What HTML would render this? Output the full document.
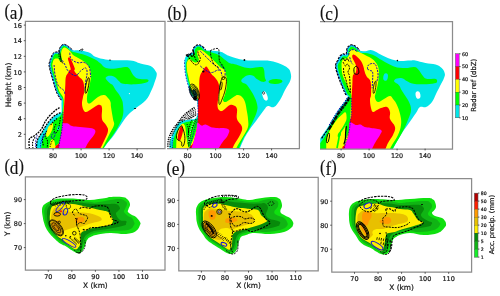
<!DOCTYPE html>
<html lang="en"><head><meta charset="utf-8"><title>Figure</title>
<style>html,body{margin:0;padding:0;background:#fff}svg{display:block}</style></head>
<body>
<svg width="500" height="296" viewBox="0 0 500 296">
<rect width="500" height="296" fill="#fff"/>
<defs>
<clipPath id="ka"><rect x="25.4" y="21.4" width="139.6" height="127.3"/></clipPath>
<clipPath id="kb"><rect x="165.5" y="21.4" width="133.9" height="127.3"/></clipPath>
<clipPath id="kc"><rect x="320.2" y="21.4" width="132.2" height="127.6"/></clipPath>
<clipPath id="kd"><rect x="25.4" y="176.8" width="139.6" height="93.3"/></clipPath>
<clipPath id="ke"><rect x="178.8" y="177.4" width="139.4" height="93.5"/></clipPath>
<clipPath id="kf"><rect x="331.8" y="178.5" width="139.8" height="93.6"/></clipPath>
</defs>
<g clip-path="url(#ka)">
<path d="M61.5,112.0C61.8,110.2 61.5,106.4 61.5,104.0C61.5,101.6 62.0,101.8 61.3,100.0C60.6,98.2 59.2,96.9 58.2,95.0C57.2,93.1 57.2,93.4 56.2,90.4C55.2,87.4 54.4,84.9 53.1,80.2C51.8,75.5 50.3,70.6 49.6,67.0C48.9,63.4 49.5,63.7 49.8,62.0C50.1,60.3 50.4,60.0 51.1,58.3C51.8,56.6 52.1,54.9 53.1,53.7C54.1,52.5 55.1,52.4 56.2,52.2C57.3,52.0 58.1,53.0 58.7,52.6C59.3,52.2 58.9,51.4 59.4,50.1C59.9,48.8 60.2,47.2 61.2,46.1C62.2,45.0 62.9,44.5 64.3,44.6C65.7,44.7 66.7,45.5 68.3,46.6C69.9,47.7 70.5,49.4 72.4,50.1C74.3,50.8 75.6,50.1 78.0,50.3C80.4,50.5 82.1,50.6 84.6,51.2C87.1,51.8 88.3,52.0 90.6,53.2C92.9,54.4 92.1,55.6 96.0,57.0C99.9,58.4 103.1,59.3 110.0,60.0C116.9,60.7 124.2,59.8 130.3,60.5C136.4,61.2 136.3,62.4 140.4,63.5C144.5,64.6 147.6,64.6 150.6,66.1C153.6,67.6 154.4,69.4 155.6,71.2C156.8,73.0 156.9,73.0 156.7,75.2C156.5,77.4 155.6,79.3 154.6,82.3C153.6,85.3 153.3,86.5 151.6,90.0C149.9,93.5 149.1,96.4 146.0,100.0C142.9,103.6 139.6,105.0 136.0,108.0C132.4,111.0 130.8,112.0 128.0,115.0C125.2,118.0 124.8,119.0 122.0,123.0C119.2,127.0 117.2,130.6 114.0,135.0C110.8,139.4 108.6,141.4 106.0,145.0C103.4,148.6 101.0,153.0 101.0,153.0C101.0,153.0 35.5,153.0 35.5,153.0C35.5,153.0 35.8,151.5 36.2,149.0C36.6,146.5 36.3,143.8 37.5,140.5C38.7,137.2 40.6,135.1 42.2,132.5C43.8,129.9 43.9,129.5 45.3,127.3C46.7,125.1 47.5,123.7 49.3,121.5C51.1,119.3 52.3,117.9 54.4,116.2C56.5,114.5 58.6,113.8 60.0,113.0C61.4,112.2 61.2,113.8 61.5,112.0Z" fill="#02e6e8" />
<path d="M63.0,104.0C63.0,101.9 63.4,101.4 62.7,99.5C62.0,97.5 60.5,96.2 59.5,94.3C58.5,92.4 58.6,92.8 57.6,89.9C56.6,87.0 55.9,84.4 54.5,79.8C53.2,75.2 51.7,70.2 51.1,66.7C50.4,63.2 51.0,63.8 51.3,62.3C51.6,60.7 51.9,60.4 52.5,58.9C53.1,57.3 53.5,55.7 54.3,54.7C55.0,53.6 55.4,53.8 56.5,53.7C57.5,53.5 58.7,54.5 59.5,53.9C60.4,53.2 60.2,52.0 60.8,50.6C61.4,49.3 61.6,48.0 62.3,47.1C63.0,46.2 63.2,45.9 64.2,46.1C65.2,46.2 66.0,46.8 67.5,47.8C68.9,48.9 69.2,50.2 71.4,51.2C73.6,52.3 75.7,52.4 78.5,53.2C81.3,54.0 82.4,54.0 85.6,55.2C88.8,56.4 91.8,57.7 94.7,59.3C97.6,60.9 97.7,61.3 100.0,63.0C102.3,64.7 102.8,66.9 106.0,68.0C109.2,69.1 112.2,68.7 116.0,68.5C119.8,68.3 122.5,67.1 125.2,67.1C127.9,67.1 127.7,67.0 129.3,68.6C130.9,70.2 131.5,73.2 133.3,75.2C135.1,77.2 135.8,78.0 138.4,78.8C141.0,79.6 144.5,78.9 146.5,79.3C148.5,79.7 148.7,80.1 148.5,80.8C148.3,81.5 148.1,82.1 145.5,82.8C142.9,83.5 139.9,84.1 135.4,84.3C130.9,84.5 126.5,84.4 123.2,83.8C119.9,83.2 120.7,82.6 119.1,81.3C117.5,80.0 116.9,78.3 115.1,77.2C113.3,76.1 111.6,75.8 110.0,75.7C108.4,75.6 107.8,76.0 107.0,76.6C106.2,77.2 105.2,77.5 105.8,78.8C106.4,80.1 108.6,82.0 110.0,83.3C111.4,84.6 111.8,84.0 113.0,85.4C114.2,86.8 114.8,88.8 116.0,90.5C117.2,92.2 117.6,92.1 118.8,94.0C120.0,95.9 121.2,97.8 122.0,100.0C122.8,102.2 122.8,102.0 123.0,105.0C123.2,108.0 123.8,111.0 123.0,115.0C122.2,119.0 121.0,121.0 119.0,125.0C117.0,129.0 115.8,130.8 113.0,135.0C110.2,139.2 107.4,142.4 105.0,146.0C102.6,149.6 101.0,153.0 101.0,153.0C101.0,153.0 41.0,153.0 41.0,153.0C41.0,153.0 41.1,148.6 41.5,146.0C41.9,143.4 42.0,142.6 43.0,140.0C44.0,137.4 45.2,135.5 46.5,133.0C47.8,130.5 48.2,129.6 49.5,127.5C50.8,125.4 51.5,124.3 53.0,122.5C54.5,120.7 55.4,120.0 57.0,118.5C58.6,117.0 59.9,116.7 61.0,115.0C62.1,113.3 62.1,112.2 62.5,110.0C62.9,107.8 63.0,106.1 63.0,104.0Z" fill="#00ff00" />
<path d="M63.5,99.0C63.0,95.8 61.9,95.8 61.0,94.0C60.1,92.2 59.8,92.8 58.8,90.0C57.8,87.2 57.2,84.8 56.0,80.2C54.8,75.6 53.2,70.5 52.6,67.0C52.0,63.5 52.5,64.0 52.8,62.5C53.1,61.0 53.3,60.3 54.0,59.5C54.7,58.7 55.3,58.7 56.2,58.6C57.1,58.5 57.6,58.3 58.5,58.9C59.4,59.5 59.8,61.3 60.5,61.5C61.2,61.7 61.9,61.3 62.0,60.0C62.1,58.7 61.3,57.0 61.2,55.2C61.1,53.4 61.1,52.4 61.5,51.0C61.9,49.6 62.3,48.9 63.0,48.2C63.7,47.5 63.9,47.4 64.8,47.6C65.7,47.8 66.4,48.2 67.5,49.0C68.6,49.8 69.2,50.2 70.4,51.4C71.6,52.6 71.5,53.7 73.4,55.2C75.3,56.7 77.5,57.4 80.0,59.0C82.5,60.6 84.1,61.2 86.0,63.0C87.9,64.8 88.6,65.6 89.6,68.0C90.6,70.4 91.1,71.6 91.1,75.1C91.1,78.6 90.3,81.7 89.6,85.3C88.9,88.9 88.1,90.1 87.6,93.0C87.1,95.9 86.8,97.9 87.0,100.0C87.2,102.1 87.5,103.1 88.5,103.5C89.5,103.9 90.1,103.3 92.0,102.0C93.9,100.7 95.6,98.4 98.0,97.0C100.4,95.6 102.0,94.8 104.0,95.0C106.0,95.2 106.7,96.6 108.0,98.0C109.3,99.4 109.9,100.2 110.5,102.0C111.1,103.8 110.5,103.6 111.0,107.0C111.5,110.4 112.4,115.4 113.0,119.0C113.6,122.6 114.6,122.2 114.0,125.0C113.4,127.8 112.0,129.0 110.0,133.0C108.0,137.0 106.0,141.0 104.0,145.0C102.0,149.0 100.0,153.0 100.0,153.0C100.0,153.0 49.5,153.0 49.5,153.0C49.5,153.0 50.9,147.4 52.0,146.0C53.1,144.6 53.5,146.8 55.0,146.0C56.5,145.2 58.2,144.8 59.5,142.0C60.8,139.2 60.8,135.8 61.5,132.0C62.2,128.2 62.4,127.4 62.8,123.0C63.2,118.6 63.4,114.8 63.5,110.0C63.6,105.2 64.0,102.2 63.5,99.0Z" fill="#ffff00" />
<path d="M68.6,57.5C69.0,57.2 69.4,56.9 70.2,58.0C71.0,59.1 71.7,60.9 72.6,63.0C73.5,65.1 74.4,66.8 74.8,68.4C75.2,70.0 73.7,69.5 74.4,71.1C75.1,72.7 76.9,74.4 78.5,76.2C80.1,78.0 81.4,78.4 82.5,80.2C83.6,82.0 83.7,82.9 84.0,85.3C84.3,87.7 84.4,89.7 84.2,92.0C84.0,94.3 83.4,94.6 83.0,97.0C82.6,99.4 81.9,101.4 82.0,104.0C82.1,106.6 82.7,108.4 83.5,110.0C84.3,111.6 84.7,112.0 86.0,112.0C87.3,112.0 88.0,111.2 90.0,110.0C92.0,108.8 94.0,107.0 96.0,106.0C98.0,105.0 98.8,104.6 100.0,105.0C101.2,105.4 101.6,105.2 102.0,108.0C102.4,110.8 101.2,115.6 102.0,119.0C102.8,122.4 104.8,122.6 106.0,125.0C107.2,127.4 108.4,127.8 108.0,131.0C107.6,134.2 106.0,136.6 104.0,141.0C102.0,145.4 98.0,153.0 98.0,153.0C98.0,153.0 53.0,153.0 53.0,153.0C53.0,153.0 54.2,148.6 55.5,146.5C56.8,144.4 58.3,145.2 59.5,142.3C60.7,139.4 60.8,135.9 61.5,132.0C62.2,128.1 62.3,127.4 62.8,123.0C63.3,118.6 63.4,115.6 63.8,110.0C64.2,104.4 64.5,99.9 64.8,95.0C65.1,90.1 65.1,88.9 65.3,85.3C65.5,81.7 65.3,79.7 65.8,77.2C66.3,74.7 67.2,74.4 68.0,73.0C68.8,71.6 69.1,70.7 69.6,70.0C70.1,69.3 70.7,70.6 70.7,69.4C70.7,68.2 69.9,66.0 69.4,64.0C68.9,62.0 68.2,60.6 68.0,59.3C67.8,58.0 68.2,57.8 68.6,57.5Z" fill="#ff0000" />
<path d="M64.6,123.3C65.7,123.2 66.5,123.0 68.0,123.5C69.5,124.0 69.6,125.3 72.0,126.0C74.4,126.7 76.4,126.6 80.0,127.0C83.6,127.4 87.0,127.4 90.0,128.0C93.0,128.6 94.2,128.6 95.0,130.0C95.8,131.4 95.4,132.4 94.0,135.0C92.6,137.6 90.2,139.4 88.0,143.0C85.8,146.6 83.0,153.0 83.0,153.0C83.0,153.0 57.0,153.0 57.0,153.0C57.0,153.0 58.0,151.1 58.5,149.0C59.0,146.9 58.9,145.7 59.5,142.3C60.1,138.9 60.9,135.8 61.5,132.1C62.1,128.4 61.9,125.8 62.5,124.0C63.1,122.2 63.5,123.4 64.6,123.3Z" fill="#ff00ff" />
<ellipse cx="49.6" cy="130" rx="2.3" ry="7.4" fill="#ffff00" transform="rotate(22 49.6 130)"/>
<ellipse cx="58.5" cy="128.1" rx="1.2" ry="2.5" fill="#02e6e8" transform="rotate(15 58.5 128.1)"/>
<path d="M49.3,150.0C48.3,148.7 49.3,145.6 49.8,143.5C50.3,141.4 51.0,140.1 51.8,139.5C52.6,138.9 53.4,139.5 54.0,140.5C54.6,141.5 54.9,142.6 55.0,144.5C55.1,146.4 55.7,148.9 54.6,150.0C53.5,151.1 50.3,151.3 49.3,150.0Z" fill="#ffff00" />
<path d="M57.0,118.5C56.2,119.2 54.4,120.5 53.0,122.0C51.6,123.5 50.6,125.2 50.0,126.0" fill="none" stroke="#000" stroke-width="1.12" stroke-dasharray="1.5 1"/>
<path d="M56.0,124.0C55.6,125.0 54.1,127.2 54.0,129.0C53.9,130.8 54.7,132.8 55.5,133.0C56.3,133.2 57.2,131.8 58.0,130.0C58.8,128.2 59.0,126.6 59.5,124.0C60.0,121.4 60.3,118.4 60.5,117.0" fill="none" stroke="#000" stroke-width="1.0" stroke-dasharray="1.5 1"/>
<path d="M44.0,134.0C43.7,135.2 42.6,137.6 42.5,140.0C42.4,142.4 43.3,144.8 43.5,146.0" fill="none" stroke="#000" stroke-width="1.12" stroke-dasharray="1.5 1"/>
<path d="M40.5,149.0C40.6,147.8 40.3,145.4 40.8,143.0C41.3,140.6 42.0,139.2 43.0,137.0C44.0,134.8 45.4,133.0 46.0,132.0" fill="none" stroke="#0c0cb4" stroke-width="0.88" stroke-dasharray="1.5 1"/>
<ellipse cx="129.4" cy="93.6" rx="0.6" ry="0.6" fill="#fff"/>
<path d="M61.0,100.2C60.4,99.2 59.0,97.1 57.9,95.1C56.9,93.2 56.9,93.5 55.9,90.5C54.9,87.5 54.1,85.0 52.8,80.3C51.5,75.6 50.0,70.7 49.3,67.1C48.6,63.4 49.2,63.7 49.5,61.9C49.8,60.2 50.1,59.9 50.8,58.2C51.5,56.5 51.8,54.8 52.9,53.5C53.9,52.3 55.0,52.1 56.1,51.9C57.3,51.7 57.9,52.7 58.5,52.3C59.1,52.0 58.6,51.3 59.1,50.0C59.6,48.7 59.9,47.0 61.0,45.9C62.0,44.8 62.8,44.2 64.3,44.3C65.8,44.4 66.8,45.2 68.5,46.4C70.1,47.5 71.8,49.2 72.6,49.9" fill="none" stroke="#000" stroke-width="1.0" stroke-dasharray="2.4 1.1"/>
<path d="M61.7,99.8C61.1,98.8 59.6,96.7 58.6,94.8C57.6,92.9 57.6,93.2 56.6,90.3C55.6,87.3 54.8,84.7 53.5,80.1C52.2,75.4 50.7,70.5 50.0,66.9C49.4,63.3 49.9,63.8 50.2,62.1C50.5,60.4 50.9,60.1 51.5,58.5C52.2,56.8 52.5,55.2 53.4,54.0C54.4,52.8 55.2,52.8 56.3,52.6C57.4,52.4 58.2,53.5 58.9,53.0C59.7,52.5 59.3,51.6 59.8,50.3C60.3,48.9 60.6,47.4 61.5,46.4C62.4,45.4 63.0,44.9 64.3,45.0C65.6,45.2 66.5,45.9 68.0,47.0C69.6,48.1 71.3,49.7 72.1,50.4" fill="none" stroke="#0c0cb4" stroke-width="0.88" stroke-dasharray="1.6 1.4"/>
<path d="M59.2,50.5C59.4,51.4 59.8,53.2 60.2,55.2C60.6,57.2 60.7,58.7 61.2,60.3C61.7,61.9 62.4,62.7 62.7,63.3" fill="none" stroke="#000" stroke-width="1.0"/>
<path d="M58.7,53.2C58.8,54.0 58.8,55.5 59.2,57.2C59.6,58.9 60.4,60.9 60.7,61.8" fill="none" stroke="#000" stroke-width="0.88" stroke-dasharray="1.5 1"/>
<path d="M69.8,52.7C69.9,53.6 69.7,55.6 70.4,57.2C71.1,58.8 71.8,59.7 73.4,60.8C75.0,61.9 76.5,62.5 78.5,62.8C80.5,63.1 81.7,61.9 83.5,62.3C85.3,62.7 86.3,63.5 87.6,64.8C88.9,66.1 89.2,66.5 89.8,69.0C90.4,71.5 90.4,75.6 90.6,77.2" fill="none" stroke="#0c0cb4" stroke-width="0.98" stroke-dasharray="2.2 1.1"/>
<path d="M62.2,60.3C62.8,61.3 64.1,63.2 65.3,65.4C66.5,67.6 66.3,69.1 68.3,71.1C70.3,73.1 73.0,75.6 75.4,75.6C77.8,75.6 78.5,72.6 80.5,71.1C82.5,69.6 84.3,67.6 85.6,68.0C86.9,68.4 87.1,70.3 87.1,73.1C87.1,75.9 86.0,78.7 85.6,82.2C85.2,85.7 85.1,88.8 85.0,90.4" fill="none" stroke="#0c0cb4" stroke-width="0.98" stroke-dasharray="2.2 1.1"/>
<path d="M54.1,65.0C54.3,67.0 54.3,71.0 55.1,75.1C55.9,79.2 56.5,82.2 58.2,85.3C59.9,88.4 62.5,88.6 63.8,90.4C65.1,92.2 64.6,93.6 64.8,94.4" fill="none" stroke="#0c0cb4" stroke-width="0.98" stroke-dasharray="2.2 1.1"/>
<ellipse cx="87.2" cy="85.5" rx="1.4" ry="8" fill="none" stroke="#000" stroke-width="0.88" transform="rotate(11 87.2 85.5)"/>
<path d="M60.5,112.6C59.3,113.2 56.6,114.1 54.4,115.8C52.2,117.5 51.1,118.8 49.3,121.0C47.5,123.2 46.7,124.6 45.3,126.8C43.9,129.0 43.8,129.4 42.2,132.0C40.6,134.6 38.6,136.8 37.5,140.0C36.4,143.2 36.7,146.4 36.5,148.0" fill="none" stroke="#000" stroke-width="1.2" stroke-dasharray="2 0.9"/>
<path d="M59.5,107.6C58.5,108.3 56.6,109.3 54.4,111.2C52.2,113.1 50.3,114.8 48.3,117.2C46.3,119.6 45.7,120.9 44.3,123.3C42.9,125.7 43.0,127.0 41.2,129.4C39.4,131.8 37.3,133.4 35.1,135.2C32.9,137.0 31.2,136.8 30.0,138.2C28.8,139.6 29.1,140.1 29.0,142.3C28.9,144.5 29.4,147.7 29.5,149.0" fill="none" stroke="#000" stroke-width="1.3" stroke-dasharray="2 0.9"/>
<path d="M35.1,137.2C34.6,138.2 33.0,139.9 32.6,142.3C32.2,144.7 32.9,147.7 33.0,149.0" fill="none" stroke="#000" stroke-width="1.12" stroke-dasharray="1.6 1"/>
<path d="M37.2,135.2C36.9,136.6 35.8,139.5 35.6,142.3C35.4,145.1 35.9,147.7 36.0,149.0" fill="none" stroke="#0c0cb4" stroke-width="0.88" stroke-dasharray="1.6 1"/>
<path d="M47.0,149.0C47.1,147.4 47.9,143.6 47.5,141.0C47.1,138.4 45.1,138.2 45.0,136.0C44.9,133.8 46.6,131.2 47.0,130.0" fill="none" stroke="#000" stroke-width="1.0" stroke-dasharray="1.5 1"/>
<ellipse cx="53.2" cy="135.5" rx="1.5" ry="3.2" fill="none" stroke="#0c0cb4" stroke-width="0.88" stroke-dasharray="1.5 0.8" transform="rotate(25 53.2 135.5)"/>
<path d="M58.5,149.0C58.7,147.7 58.9,145.7 59.5,142.3C60.1,138.9 60.9,135.9 61.5,132.0C62.1,128.1 62.2,127.0 62.5,123.0C62.8,119.0 62.9,114.2 63.0,112.0" fill="none" stroke="#0c0cb4" stroke-width="0.88" stroke-dasharray="1.6 1"/>
<path d="M50.0,147.0C50.4,145.8 51.0,142.6 52.0,141.0C53.0,139.4 54.4,139.4 55.0,139.0" fill="none" stroke="#000" stroke-width="0.88" stroke-dasharray="1.4 1"/>
<ellipse cx="135" cy="108.6" rx="1.2" ry="0.5" fill="#000"/>
<path d="M79.0,51.0C79.4,50.7 80.2,50.0 81.0,49.6C81.8,49.2 82.9,48.9 83.0,49.2C83.1,49.5 81.8,50.9 81.5,51.3" fill="none" stroke="#000" stroke-width="0.88"/>
<ellipse cx="110" cy="60" rx="0.8" ry="0.5" fill="#000"/>
</g>
<g clip-path="url(#kb)">
<path d="M198.0,112.0C198.3,109.8 197.8,108.4 197.5,106.0C197.2,103.6 197.8,102.2 196.5,100.0C195.2,97.8 192.9,97.9 191.2,95.0C189.5,92.1 189.2,89.3 188.1,85.3C187.0,81.3 186.3,79.2 185.6,75.1C184.9,71.0 184.8,68.0 184.6,65.0C184.4,62.0 184.4,61.9 184.6,60.3C184.8,58.7 185.0,58.0 185.5,57.0C186.0,56.0 186.2,55.8 187.1,55.2C188.0,54.6 188.8,54.3 190.0,53.8C191.2,53.3 192.4,53.4 193.0,52.5C193.6,51.6 192.8,50.3 193.2,49.1C193.6,47.9 194.2,47.4 195.2,46.6C196.2,45.8 196.9,45.1 198.3,45.1C199.7,45.1 200.9,45.6 202.3,46.6C203.7,47.6 203.8,49.3 205.4,50.1C207.0,50.9 207.4,50.3 210.4,50.6C213.4,50.9 217.6,51.0 220.6,51.7C223.6,52.4 223.7,53.3 225.6,54.2C227.5,55.1 226.3,55.0 230.0,56.2C233.7,57.4 238.0,59.1 244.0,60.0C250.0,60.9 254.7,60.3 260.0,60.5C265.3,60.7 266.3,60.3 270.4,61.0C274.5,61.7 277.1,62.7 280.6,64.1C284.1,65.5 285.7,66.4 287.7,68.1C289.7,69.8 289.9,70.1 290.5,72.5C291.1,74.9 291.6,76.5 290.5,80.0C289.4,83.5 287.1,86.0 285.0,90.0C282.9,94.0 282.2,96.6 280.0,100.0C277.8,103.4 276.4,105.8 274.0,107.0C271.6,108.2 270.0,105.4 268.0,106.0C266.0,106.6 266.4,107.0 264.0,110.0C261.6,113.0 258.8,117.2 256.0,121.0C253.2,124.8 252.4,125.4 250.0,129.0C247.6,132.6 246.4,134.2 244.0,139.0C241.6,143.8 238.0,153.0 238.0,153.0C238.0,153.0 168.5,153.0 168.5,153.0C168.5,153.0 169.1,149.6 169.5,147.0C169.9,144.4 169.8,142.8 170.5,140.0C171.2,137.2 171.9,135.6 173.0,133.0C174.1,130.4 174.8,129.1 176.0,127.0C177.2,124.9 177.6,123.9 179.0,122.5C180.4,121.1 180.8,120.7 183.0,120.0C185.2,119.3 187.4,119.6 190.0,119.0C192.6,118.4 194.4,118.4 196.0,117.0C197.6,115.6 197.7,114.2 198.0,112.0Z" fill="#02e6e8" />
<path d="M198.8,105.8C198.8,102.1 198.9,101.7 197.6,99.4C196.3,97.1 194.0,97.2 192.3,94.4C190.7,91.5 190.4,88.8 189.4,84.9C188.3,81.1 187.6,78.9 186.9,74.9C186.2,70.9 185.9,67.7 185.9,64.9C185.9,62.1 186.5,62.5 187.0,61.0C187.5,59.5 187.5,58.7 188.5,57.5C189.5,56.3 190.8,55.8 192.0,55.0C193.2,54.2 193.9,54.5 194.5,53.5C195.1,52.5 194.4,51.1 194.8,50.0C195.2,48.9 195.6,48.5 196.3,47.8C197.0,47.1 197.3,46.6 198.3,46.6C199.3,46.6 200.4,47.1 201.5,47.8C202.6,48.5 203.0,49.7 204.0,50.3C205.0,50.9 204.7,50.3 206.4,50.8C208.1,51.3 209.9,51.8 212.5,52.7C215.1,53.6 217.0,53.9 219.6,55.4C222.2,56.9 223.5,58.7 225.6,60.3C227.7,61.9 227.9,62.5 230.0,63.3C232.1,64.1 232.4,63.5 236.0,64.5C239.6,65.5 243.2,67.6 248.1,68.1C253.0,68.6 257.2,66.9 260.3,67.1C263.4,67.3 262.9,67.1 263.8,69.1C264.7,71.1 264.4,74.9 264.8,77.2C265.2,79.5 266.4,79.9 265.9,80.8C265.4,81.7 264.0,82.1 262.3,81.8C260.6,81.5 259.0,80.5 257.2,79.3C255.4,78.1 255.0,76.5 253.2,75.7C251.4,74.9 249.9,74.9 248.1,75.2C246.3,75.5 245.4,76.3 244.1,77.2C242.8,78.1 241.9,78.8 241.5,79.8C241.1,80.8 241.1,81.4 242.0,82.3C242.9,83.2 244.6,83.1 246.1,84.3C247.6,85.5 247.9,86.2 249.5,88.5C251.1,90.8 252.5,92.9 254.0,96.0C255.5,99.1 256.4,101.0 257.0,104.0C257.6,107.0 257.8,107.6 257.0,111.0C256.2,114.4 254.6,117.4 253.0,121.0C251.4,124.6 251.0,125.4 249.0,129.0C247.0,132.6 245.4,134.2 243.0,139.0C240.6,143.8 237.0,153.0 237.0,153.0C237.0,153.0 172.0,153.0 172.0,153.0C172.0,153.0 172.2,149.6 172.5,147.0C172.8,144.4 172.9,142.6 173.5,140.0C174.1,137.4 174.6,136.2 175.5,134.0C176.4,131.8 176.9,130.8 178.0,129.0C179.1,127.2 179.6,126.3 181.0,125.0C182.4,123.7 183.0,123.3 185.0,122.5C187.0,121.7 188.5,121.9 191.0,121.0C193.5,120.1 195.9,121.0 197.5,118.0C199.1,115.0 198.8,109.6 198.8,105.8Z" fill="#00ff00" />
<ellipse cx="275.5" cy="81.5" rx="7" ry="2.4" fill="#00ff00" transform="rotate(-3 275.5 81.5)"/>
<ellipse cx="265" cy="96" rx="2.3" ry="4.8" fill="#fff" transform="rotate(-20 265 96)"/>
<path d="M198.5,100.0C197.6,96.6 195.1,97.9 193.5,95.0C191.9,92.1 191.5,89.3 190.4,85.3C189.3,81.3 188.7,78.2 188.0,75.1C187.3,72.0 187.2,72.6 187.0,70.0C186.8,67.4 186.4,64.4 187.0,62.3C187.6,60.2 188.8,59.5 190.0,59.3C191.2,59.1 192.0,60.9 193.2,61.5C194.4,62.1 195.1,62.8 196.2,62.5C197.3,62.2 198.5,61.5 198.8,60.0C199.1,58.5 197.9,56.7 197.5,55.0C197.1,53.3 196.8,52.4 197.0,51.5C197.2,50.6 197.6,50.9 198.3,50.6C199.0,50.3 199.5,49.9 200.5,50.0C201.5,50.1 201.5,50.0 203.3,51.2C205.1,52.4 207.0,54.0 209.4,56.2C211.8,58.4 213.3,60.1 215.5,62.3C217.7,64.5 218.8,65.9 220.6,67.4C222.4,68.9 223.5,68.5 224.6,70.0C225.7,71.5 225.6,72.0 226.1,75.1C226.6,78.2 227.3,81.3 227.0,85.3C226.7,89.3 225.6,92.0 224.8,95.0C224.0,98.0 222.8,98.9 223.0,100.3C223.2,101.7 224.2,102.2 225.6,102.0C227.0,101.8 228.2,100.6 230.0,99.5C231.8,98.4 233.1,97.2 234.7,96.3C236.3,95.4 236.5,94.9 238.0,95.0C239.5,95.1 240.6,95.6 242.0,97.0C243.4,98.4 244.0,99.0 245.0,102.0C246.0,105.0 246.4,108.6 247.0,112.0C247.6,115.4 247.8,116.0 248.0,119.0C248.2,122.0 248.8,123.8 248.0,127.0C247.2,130.2 246.0,131.4 244.0,135.0C242.0,138.6 240.0,141.4 238.0,145.0C236.0,148.6 234.0,153.0 234.0,153.0C234.0,153.0 176.0,153.0 176.0,153.0C176.0,153.0 176.1,149.6 176.2,147.0C176.3,144.4 176.3,142.6 176.5,140.0C176.7,137.4 176.5,136.4 177.0,134.0C177.5,131.6 178.0,130.0 179.0,128.0C180.0,126.0 180.8,124.4 182.0,124.0C183.2,123.6 184.2,124.0 185.0,126.0C185.8,128.0 185.6,131.2 186.0,134.0C186.4,136.8 186.5,137.4 187.0,140.0C187.5,142.6 187.8,145.8 188.4,147.0C189.0,148.2 189.1,147.4 190.0,146.0C190.9,144.6 191.8,143.0 193.0,140.0C194.2,137.0 195.1,134.4 196.0,131.0C196.9,127.6 197.1,126.8 197.5,123.0C197.9,119.2 197.8,116.6 198.0,112.0C198.2,107.4 199.4,103.4 198.5,100.0Z" fill="#ffff00" />
<path d="M205.9,66.5C207.0,66.1 207.3,67.6 208.4,69.1C209.5,70.6 210.0,72.3 211.4,74.1C212.8,75.9 214.1,76.4 215.5,78.2C216.9,80.0 217.7,80.9 218.5,83.3C219.3,85.7 219.3,88.1 219.3,90.4C219.3,92.7 218.8,93.1 218.5,95.0C218.2,96.9 218.2,97.8 218.0,100.0C217.8,102.2 217.3,104.0 217.5,106.0C217.7,108.0 218.1,109.0 219.0,110.0C219.9,111.0 220.6,111.4 222.0,111.0C223.4,110.6 224.4,109.2 226.0,108.0C227.6,106.8 228.4,105.5 230.0,105.0C231.6,104.5 232.6,104.7 234.0,105.5C235.4,106.3 236.4,106.3 237.0,109.0C237.6,111.7 236.0,115.4 237.0,119.0C238.0,122.6 241.4,123.8 242.0,127.0C242.6,130.2 241.6,131.4 240.0,135.0C238.4,138.6 235.8,141.4 234.0,145.0C232.2,148.6 231.0,153.0 231.0,153.0C231.0,153.0 188.0,153.0 188.0,153.0C188.0,153.0 188.7,149.1 189.8,147.0C190.9,144.9 192.1,145.7 193.4,142.3C194.7,138.9 195.6,133.9 196.5,130.0C197.4,126.1 197.5,126.6 197.8,123.0C198.1,119.4 198.0,116.6 198.0,112.0C198.0,107.4 197.7,103.4 198.0,100.0C198.3,96.6 199.0,98.6 199.3,95.0C199.6,91.4 199.1,86.2 199.3,82.2C199.5,78.2 199.6,77.3 200.3,75.1C201.0,72.9 201.7,72.8 202.8,71.1C203.9,69.4 204.8,66.9 205.9,66.5Z" fill="#ff0000" />
<path d="M197.5,123.0C198.5,122.1 199.9,125.3 201.5,125.6C203.1,125.9 203.8,124.3 205.6,124.6C207.4,124.9 208.6,126.4 210.7,127.1C212.8,127.8 212.5,127.6 216.0,128.0C219.5,128.4 225.6,127.6 228.0,129.0C230.4,130.4 229.2,132.2 228.0,135.0C226.8,137.8 224.4,139.4 222.0,143.0C219.6,146.6 216.0,153.0 216.0,153.0C216.0,153.0 190.5,153.0 190.5,153.0C190.5,153.0 190.8,150.8 191.4,148.7C192.0,146.6 192.4,146.0 193.4,142.3C194.4,138.6 195.7,134.0 196.5,130.1C197.3,126.2 196.5,123.9 197.5,123.0Z" fill="#ff00ff" />
<path d="M181.8,126.4C182.3,126.8 182.8,127.7 183.0,129.0C183.2,130.3 182.9,131.4 182.6,133.0C182.3,134.6 182.0,135.6 181.5,137.0C181.0,138.4 180.9,139.3 180.3,140.0C179.7,140.7 179.1,141.0 178.6,140.6C178.1,140.2 177.9,139.3 177.8,138.0C177.7,136.7 177.9,135.6 178.2,134.0C178.5,132.4 178.9,131.4 179.4,130.0C179.9,128.6 180.1,127.7 180.6,127.0C181.1,126.3 181.3,126.0 181.8,126.4Z" fill="#ff0000" />
<path d="M196.0,106.5C194.7,105.0 192.2,108.5 190.0,110.0C187.8,111.5 186.8,112.5 185.0,114.0C183.2,115.5 182.4,115.9 181.0,117.5C179.6,119.1 177.6,121.4 178.0,122.0C178.4,122.6 180.6,121.0 183.0,120.5C185.4,120.0 187.3,120.1 190.0,119.5C192.7,118.9 195.1,120.1 196.3,117.5C197.5,114.9 197.3,108.0 196.0,106.5Z" fill="#fff" />
<path d="M187.0,54.9C187.6,54.6 188.7,54.0 189.9,53.5C191.0,53.0 192.1,53.2 192.8,52.3C193.4,51.4 192.5,50.2 192.9,49.0C193.4,47.8 193.9,47.2 195.0,46.4C196.1,45.5 196.8,44.8 198.3,44.8C199.8,44.8 201.0,45.3 202.5,46.4C203.9,47.4 205.0,49.2 205.6,49.9" fill="none" stroke="#000" stroke-width="1.05" stroke-dasharray="2.4 1.1"/>
<path d="M187.3,55.6C187.9,55.3 189.0,54.8 190.2,54.2C191.4,53.6 192.7,53.7 193.4,52.8C194.1,51.8 193.2,50.4 193.6,49.3C194.0,48.1 194.5,47.7 195.5,47.0C196.4,46.2 197.0,45.5 198.3,45.6C199.6,45.6 200.7,46.0 202.0,47.0C203.4,47.9 204.5,49.7 205.1,50.4" fill="none" stroke="#0c0cb4" stroke-width="0.88" stroke-dasharray="1.6 1.4"/>
<path d="M196.5,100.0C195.4,99.0 192.9,97.9 191.2,95.0C189.5,92.1 189.2,89.3 188.1,85.3C187.0,81.3 186.3,79.2 185.6,75.1C184.9,71.0 184.8,68.0 184.6,65.0C184.4,62.0 184.6,61.2 184.6,60.3" fill="none" stroke="#0c0cb4" stroke-width="0.75" stroke-dasharray="1.6 1.4"/>
<path d="M186.0,54.5C186.4,54.9 187.2,56.6 188.0,56.5C188.8,56.4 189.2,54.0 190.0,54.0C190.8,54.0 191.2,56.5 192.0,56.5C192.8,56.5 193.8,55.2 194.0,54.0C194.2,52.8 193.4,51.2 193.2,50.5" fill="none" stroke="#000" stroke-width="1.12"/>
<path d="M187.1,55.2C187.7,56.0 188.9,57.7 190.1,59.3C191.3,60.9 192.0,62.2 193.2,63.3C194.4,64.4 195.1,64.9 196.2,64.8C197.3,64.7 198.0,64.1 198.8,62.8C199.6,61.5 200.3,59.8 200.3,58.3C200.3,56.8 199.3,56.6 198.8,55.2C198.3,53.8 197.9,52.0 197.7,51.2" fill="none" stroke="#000" stroke-width="1.0" stroke-dasharray="2 1"/>
<path d="M193.2,50.1C193.4,51.1 193.6,53.2 194.2,55.2C194.8,57.2 195.3,58.9 196.2,60.3C197.1,61.7 198.3,61.9 198.8,62.3" fill="none" stroke="#000" stroke-width="1.0" stroke-dasharray="2 1"/>
<path d="M200.3,51.2C201.5,52.4 204.2,55.0 206.4,57.2C208.6,59.4 209.2,60.3 211.4,62.3C213.6,64.3 215.7,65.7 217.5,67.4C219.3,69.1 219.7,68.8 220.6,70.6C221.5,72.4 221.8,75.1 222.1,76.2" fill="none" stroke="#0c0cb4" stroke-width="0.98" stroke-dasharray="2.2 1.1"/>
<path d="M200.3,66.0C201.3,66.8 203.2,68.8 205.4,70.1C207.6,71.4 209.0,72.6 211.4,72.6C213.8,72.6 215.7,70.5 217.5,70.1C219.3,69.7 220.0,70.5 220.6,70.6" fill="none" stroke="#0c0cb4" stroke-width="0.98" stroke-dasharray="2.2 1.1"/>
<path d="M220.6,65.0C221.4,65.8 223.7,66.7 224.6,69.1C225.5,71.5 225.0,75.6 225.1,77.2" fill="none" stroke="#0c0cb4" stroke-width="0.98" stroke-dasharray="2.2 1.1"/>
<path d="M210.4,50.6C211.2,50.3 212.9,49.2 214.5,48.9C216.1,48.6 217.6,47.8 218.5,49.1C219.4,50.4 218.8,52.8 219.0,55.2C219.2,57.6 218.9,59.3 219.6,61.3C220.3,63.3 221.8,63.8 222.6,65.4C223.4,67.0 223.4,68.6 223.6,69.4" fill="none" stroke="#000" stroke-width="0.94" stroke-dasharray="2 1"/>
<path d="M210.4,50.6C210.5,51.7 210.5,54.1 210.9,56.2C211.3,58.3 211.8,59.6 212.5,61.3C213.2,63.0 213.3,63.6 214.5,64.8C215.7,66.0 217.7,66.9 218.5,67.4" fill="none" stroke="#000" stroke-width="0.94" stroke-dasharray="2 1"/>
<ellipse cx="223.2" cy="78.2" rx="1.4" ry="1.4" fill="none" stroke="#000" stroke-width="0.75"/>
<ellipse cx="221" cy="86" rx="1.0" ry="4.2" fill="none" stroke="#000" stroke-width="0.75" transform="rotate(8 221 86)"/>
<path d="M224.0,76.6C224.5,77.2 226.2,76.8 226.4,79.5C226.6,82.2 226.1,85.9 225.2,90.0C224.3,94.1 222.8,97.3 221.7,100.2C220.6,103.1 220.2,104.5 219.6,104.5C219.0,104.5 218.9,102.5 218.8,100.0C218.7,97.5 218.9,95.2 219.2,92.0C219.5,88.8 219.6,86.7 220.2,84.0C220.8,81.3 221.2,80.0 222.0,78.5C222.8,77.0 223.6,77.0 224.0,76.6" fill="none" stroke="#000" stroke-width="0.81"/>
<ellipse cx="203.3" cy="71.6" rx="1.2" ry="1.0" fill="#000"/>
<ellipse cx="194.8" cy="93.5" rx="2.0" ry="4.6" fill="#063c30" transform="rotate(-22 194.8 93.5)"/>
<ellipse cx="194.4" cy="92.2" rx="1.3" ry="2.6" fill="none" stroke="#000" stroke-width="0.75" transform="rotate(-22 194.4 92.2)"/>
<ellipse cx="194.4" cy="92.2" rx="2.4" ry="4.8" fill="none" stroke="#000" stroke-width="0.75" transform="rotate(-22 194.4 92.2)"/>
<ellipse cx="194.4" cy="92.2" rx="3.4" ry="6.8" fill="none" stroke="#000" stroke-width="0.75" transform="rotate(-22 194.4 92.2)"/>
<ellipse cx="194.4" cy="92.2" rx="4.3" ry="8.6" fill="none" stroke="#000" stroke-width="0.75" transform="rotate(-22 194.4 92.2)"/>
<ellipse cx="195" cy="98.2" rx="1.8" ry="2.2" fill="#000"/>
<path d="M181.8,125.6C182.3,127.1 183.7,130.3 184.3,133.2C184.9,136.1 185.0,137.8 184.8,140.3C184.6,142.8 183.9,144.9 183.3,145.9C182.7,146.9 182.2,146.2 181.8,145.4C181.4,144.6 182.2,143.0 181.3,141.8C180.4,140.6 178.1,140.8 177.2,139.3C176.3,137.8 176.3,136.4 176.7,134.2C177.1,132.0 178.2,129.8 179.2,128.1C180.2,126.4 181.3,126.1 181.8,125.6" fill="none" stroke="#000" stroke-width="0.88"/>
<path d="M194.4,107.2C193.0,108.2 189.7,110.3 187.3,112.2C184.9,114.1 184.1,114.8 182.3,116.8C180.5,118.8 180.1,120.0 178.2,122.4C176.3,124.8 174.7,126.3 173.0,129.0C171.3,131.7 170.5,133.4 169.5,136.0C168.5,138.6 168.3,139.4 168.0,142.0C167.7,144.6 168.0,147.6 168.0,149.0" fill="none" stroke="#000" stroke-width="1.2" stroke-dasharray="1.3 0.9"/>
<path d="M195.5,109.5C194.2,110.3 191.3,111.8 189.0,113.5C186.7,115.2 185.8,116.2 184.0,118.0C182.2,119.8 181.7,120.3 180.0,122.5C178.3,124.7 177.1,126.3 175.5,129.0C173.9,131.7 172.7,134.6 172.0,136.0" fill="none" stroke="#000" stroke-width="1.0" stroke-dasharray="1.2 1"/>
<path d="M196.0,112.5C195.0,113.1 193.0,114.2 191.0,115.5C189.0,116.8 187.8,117.7 186.0,119.0C184.2,120.3 182.8,121.4 182.0,122.0" fill="none" stroke="#000" stroke-width="1.0" stroke-dasharray="1.2 1"/>
<path d="M170.5,137.0C170.4,138.2 169.8,140.6 169.8,143.0C169.8,145.4 170.4,147.8 170.5,149.0" fill="none" stroke="#000" stroke-width="1.12" stroke-dasharray="1.2 1"/>
<path d="M194.8,108.3C193.4,109.2 190.4,111.0 188.0,112.8C185.6,114.6 184.8,115.5 183.0,117.4C181.2,119.3 180.8,120.1 179.0,122.4C177.2,124.7 175.9,126.3 174.2,129.0C172.5,131.7 171.4,134.6 170.7,136.0" fill="none" stroke="#000" stroke-width="1.0" stroke-dasharray="1.1 1"/>
<path d="M195.8,111.0C194.6,111.7 192.2,113.0 190.0,114.5C187.8,116.0 186.8,116.9 185.0,118.5C183.2,120.1 181.8,121.5 181.0,122.3" fill="none" stroke="#000" stroke-width="1.0" stroke-dasharray="1.1 0.9"/>
<path d="M196.2,113.8C195.3,114.3 193.3,115.4 191.5,116.5C189.7,117.6 187.9,118.7 187.0,119.2" fill="none" stroke="#000" stroke-width="1.12" stroke-dasharray="1.1 0.9"/>
<path d="M173.0,138.0C172.8,139.0 172.3,140.8 172.2,143.0C172.1,145.2 172.5,147.8 172.6,149.0" fill="none" stroke="#0c0cb4" stroke-width="0.88" stroke-dasharray="1.2 1"/>
<path d="M192.0,120.0C191.5,121.2 190.2,123.6 189.5,126.0C188.8,128.4 188.6,129.6 188.5,132.0C188.4,134.4 188.9,135.6 188.8,138.0C188.7,140.4 188.2,142.8 188.0,144.0" fill="none" stroke="#000" stroke-width="1.0" stroke-dasharray="1.1 1"/>
<path d="M196.0,115.0C195.2,115.5 193.6,116.6 192.0,117.5C190.4,118.4 188.8,119.1 188.0,119.5" fill="none" stroke="#000" stroke-width="1.12" stroke-dasharray="1.2 1"/>
<path d="M196.0,119.0C195.4,120.4 194.0,123.2 193.0,126.0C192.0,128.8 191.7,130.2 191.0,133.0C190.3,135.8 190.0,137.2 189.5,140.0C189.0,142.8 188.7,145.6 188.5,147.0" fill="none" stroke="#000" stroke-width="1.1" stroke-dasharray="1.2 1"/>
<path d="M194.0,121.0C193.5,122.4 192.3,125.2 191.5,128.0C190.7,130.8 190.6,132.2 190.0,135.0C189.4,137.8 188.9,140.6 188.6,142.0" fill="none" stroke="#fff" stroke-width="0.8" stroke-dasharray="1.2 1.4"/>
<path d="M197.0,120.0C196.6,121.4 195.8,124.0 195.0,127.0C194.2,130.0 193.8,132.0 193.0,135.0C192.2,138.0 191.6,139.4 191.0,142.0C190.4,144.6 190.2,146.8 190.0,148.0" fill="none" stroke="#0c0cb4" stroke-width="0.88" stroke-dasharray="1.3 1"/>
<path d="M187.0,124.0C187.3,125.2 188.3,127.4 188.5,130.0C188.7,132.6 188.1,135.6 188.0,137.0" fill="none" stroke="#000" stroke-width="1.0" stroke-dasharray="1.2 1.2"/>
<path d="M198.0,100.0C198.0,102.4 198.1,107.4 198.0,112.0C197.9,116.6 197.7,120.8 197.6,123.0" fill="none" stroke="#0c0cb4" stroke-width="0.75" stroke-dasharray="1.6 1"/>
<ellipse cx="244.4" cy="60" rx="0.9" ry="0.9" fill="#000"/>
<ellipse cx="263.6" cy="93" rx="1.0" ry="1.3" fill="none" stroke="#000" stroke-width="0.62" transform="rotate(-20 263.6 93)"/>
</g>
<g clip-path="url(#kc)">
<path d="M310.0,153.0C310.0,153.0 309.9,151.1 312.0,148.0C314.1,144.9 317.2,142.3 320.6,137.7C324.0,133.1 326.7,128.9 329.2,125.0C331.7,121.1 331.4,121.3 333.2,118.3C335.0,115.3 336.1,113.4 338.3,110.2C340.5,107.0 342.5,104.8 344.4,102.1C346.3,99.4 347.6,97.9 348.0,96.5C348.4,95.1 347.2,96.6 346.2,95.0C345.2,93.4 344.6,91.7 343.2,88.3C341.8,84.9 340.5,82.3 339.1,78.2C337.7,74.1 336.6,70.9 336.0,68.0C335.4,65.1 335.9,65.0 336.3,63.5C336.7,62.0 337.3,61.8 338.1,60.3C338.9,58.8 339.1,57.4 340.1,56.2C341.1,55.0 342.0,54.6 343.2,54.2C344.4,53.8 345.4,55.4 346.2,54.4C347.0,53.4 346.7,50.7 347.2,49.1C347.7,47.5 347.8,47.4 348.7,46.6C349.6,45.8 350.3,45.0 351.8,45.1C353.3,45.2 354.8,46.0 356.3,47.1C357.8,48.2 357.6,49.8 359.4,50.6C361.2,51.4 363.3,51.3 365.5,51.2C367.7,51.1 368.5,50.0 370.5,50.1C372.5,50.2 373.3,50.7 375.6,51.7C377.9,52.7 377.9,53.4 382.0,55.2C386.1,57.0 390.4,59.4 396.0,60.5C401.6,61.6 406.1,60.5 410.0,60.5C413.9,60.5 412.2,60.0 415.3,60.5C418.4,61.0 421.3,62.2 425.4,63.0C429.5,63.8 432.3,63.6 435.6,64.6C438.9,65.6 439.9,66.4 441.7,68.1C443.5,69.8 444.2,71.2 444.7,73.2C445.2,75.2 444.9,75.4 444.0,78.0C443.1,80.6 441.6,82.8 440.0,86.0C438.4,89.2 437.6,90.8 436.0,94.0C434.4,97.2 434.0,99.4 432.0,102.0C430.0,104.6 428.4,106.0 426.0,107.0C423.6,108.0 422.0,105.8 420.0,107.0C418.0,108.2 418.2,109.8 416.0,113.0C413.8,116.2 411.8,119.0 409.0,123.0C406.2,127.0 404.6,128.9 402.0,133.0C399.4,137.1 398.0,139.5 395.8,143.5C393.6,147.5 391.0,153.0 391.0,153.0C391.0,153.0 310.0,153.0 310.0,153.0Z" fill="#02e6e8" />
<path d="M314.0,153.0C314.0,153.0 314.1,150.9 316.0,148.0C317.9,145.1 320.7,142.9 323.6,138.5C326.5,134.1 328.3,129.7 330.5,125.8C332.7,121.9 332.7,122.0 334.5,119.1C336.3,116.1 337.3,114.3 339.5,111.1C341.8,107.8 343.6,105.8 345.6,103.0C347.6,100.1 349.1,98.6 349.5,96.9C349.8,95.1 348.4,96.0 347.5,94.2C346.6,92.5 346.1,91.2 344.8,88.0C343.5,84.8 342.2,82.2 340.8,78.2C339.4,74.2 338.5,70.8 338.0,68.0C337.5,65.2 337.9,65.3 338.3,64.0C338.7,62.7 339.3,62.7 340.0,61.5C340.7,60.3 341.0,59.0 341.8,58.0C342.6,57.0 342.8,56.6 344.0,56.3C345.2,56.0 346.7,57.6 347.6,56.3C348.5,55.0 348.2,51.7 348.6,50.0C349.0,48.3 349.2,48.6 349.8,47.9C350.4,47.2 350.7,46.6 351.8,46.7C352.9,46.8 354.2,47.3 355.5,48.2C356.8,49.1 357.3,50.1 358.3,51.0C359.3,51.9 358.6,52.3 360.4,52.7C362.2,53.1 364.7,52.6 367.5,53.2C370.3,53.8 371.7,54.3 374.6,55.7C377.5,57.1 378.1,58.1 382.0,60.3C385.9,62.5 389.4,64.9 394.0,66.5C398.6,68.1 401.0,68.0 405.1,68.1C409.2,68.2 411.7,66.8 414.3,67.1C416.9,67.4 416.7,68.0 418.3,69.6C419.9,71.2 420.8,73.4 422.4,75.2C424.0,77.0 424.0,78.1 426.4,78.8C428.8,79.5 432.5,78.4 434.6,78.8C436.7,79.2 437.1,79.9 437.1,80.8C437.1,81.7 437.3,82.6 434.6,83.3C431.9,84.0 427.7,84.2 423.4,84.3C419.1,84.4 416.5,84.4 413.3,83.8C410.1,83.2 409.4,82.4 407.2,81.3C405.0,80.2 404.1,78.9 402.1,78.3C400.1,77.7 398.6,78.1 397.0,78.5C395.4,78.9 394.6,79.7 394.2,80.5C393.8,81.3 394.0,81.3 395.0,82.3C396.0,83.3 397.8,83.9 399.1,85.4C400.4,86.9 400.5,88.3 401.5,90.0C402.5,91.7 402.5,91.6 404.0,94.0C405.5,96.4 407.6,98.8 409.0,102.0C410.4,105.2 411.1,106.6 411.0,110.0C410.9,113.4 409.8,115.0 408.3,119.0C406.8,123.0 405.8,125.5 403.5,130.0C401.2,134.5 399.7,136.9 397.0,141.5C394.3,146.1 390.0,153.0 390.0,153.0C390.0,153.0 314.0,153.0 314.0,153.0Z" fill="#00ff00" />
<ellipse cx="385.6" cy="77" rx="2.3" ry="3.8" fill="#02e6e8" transform="rotate(10 385.6 77)"/>
<ellipse cx="418" cy="95" rx="2.4" ry="3.8" fill="#fff" transform="rotate(-10 418 95)"/>
<path d="M345.4,112.2C346.5,112.6 346.5,115.3 346.6,117.3C346.7,119.3 346.2,119.9 346.0,122.0C345.8,124.1 345.6,125.6 345.5,128.0C345.4,130.4 345.6,131.5 345.6,134.0C345.6,136.5 345.9,137.9 345.6,140.3C345.3,142.7 344.6,143.5 344.0,146.0C343.4,148.5 342.4,153.0 342.4,153.0C342.4,153.0 326.4,153.0 326.4,153.0C326.4,153.0 326.0,144.9 326.4,141.0C326.8,137.1 327.2,136.6 328.5,133.5C329.8,130.4 331.2,128.1 332.8,125.5C334.4,122.9 334.7,122.4 336.3,120.4C337.9,118.4 339.2,117.1 341.0,115.5C342.8,113.9 344.3,111.8 345.4,112.2Z" fill="#ffff00" />
<path d="M350.8,93.4C349.9,90.9 348.8,89.0 347.2,85.3C345.6,81.6 343.7,79.0 342.6,75.1C341.5,71.2 341.7,68.7 341.6,66.0C341.5,63.3 341.5,62.9 342.0,61.5C342.5,60.1 343.0,59.7 344.0,59.0C345.0,58.3 346.0,58.8 347.0,58.0C348.0,57.2 348.3,56.6 348.8,55.2C349.3,53.8 348.8,52.3 349.7,51.2C350.6,50.1 351.8,49.5 353.3,49.6C354.8,49.7 356.2,51.2 357.4,51.7C358.6,52.2 357.8,51.5 359.4,52.2C361.0,52.9 362.9,53.8 365.5,55.2C368.1,56.6 370.3,57.4 372.6,59.3C374.9,61.2 376.0,62.6 377.2,64.8C378.4,67.0 378.5,68.0 378.8,70.5C379.1,73.0 378.9,74.2 378.7,77.2C378.5,80.2 378.2,82.1 377.6,85.3C377.0,88.5 376.1,90.5 375.6,93.0C375.1,95.5 374.5,96.2 375.0,98.0C375.5,99.8 376.2,101.8 378.0,102.0C379.8,102.2 381.6,100.2 384.0,99.0C386.4,97.8 388.2,96.0 390.0,96.0C391.8,96.0 391.7,97.4 393.0,99.0C394.3,100.6 395.0,100.8 396.5,104.0C398.0,107.2 399.4,110.8 400.3,115.0C401.2,119.2 401.5,121.0 401.0,125.0C400.5,129.0 399.8,131.0 398.0,135.0C396.2,139.0 394.0,141.4 392.0,145.0C390.0,148.6 388.0,153.0 388.0,153.0C388.0,153.0 343.0,153.0 343.0,153.0C343.0,153.0 344.8,143.4 346.0,139.0C347.2,134.6 348.2,134.6 349.0,131.0C349.8,127.4 349.6,126.2 350.0,121.0C350.4,115.8 350.7,109.6 351.0,105.0C351.3,100.4 351.5,100.3 351.5,98.0C351.5,95.7 351.7,95.9 350.8,93.4Z" fill="#ffff00" />
<path d="M347.0,121.0C346.3,122.3 344.9,125.1 343.5,127.5C342.1,129.9 341.0,130.5 340.0,133.0C339.0,135.5 339.2,137.0 338.6,140.0C338.0,143.0 337.3,146.4 337.0,148.0" fill="none" stroke="#00ff00" stroke-width="1.7"/>
<ellipse cx="339.3" cy="134.8" rx="1.5" ry="2.6" fill="#00ff00" transform="rotate(20 339.3 134.8)"/>
<path d="M352.8,54.7C353.4,54.3 353.8,54.1 355.3,55.2C356.8,56.3 358.8,58.1 360.4,60.3C362.0,62.5 362.6,64.2 363.4,66.4C364.2,68.6 363.9,69.1 364.5,71.1C365.1,73.1 365.4,74.4 366.5,76.2C367.6,78.0 369.1,78.4 370.0,80.2C370.9,82.0 370.8,82.3 371.0,85.3C371.2,88.3 371.2,92.1 371.0,95.0C370.8,97.9 370.0,97.4 370.0,100.0C370.0,102.6 370.4,105.6 371.0,108.0C371.6,110.4 371.8,111.6 373.0,112.0C374.2,112.4 375.4,110.8 377.0,110.0C378.6,109.2 379.0,108.6 381.0,108.0C383.0,107.4 385.2,106.2 387.0,107.0C388.8,107.8 389.4,109.6 390.0,112.0C390.6,114.4 389.0,116.0 390.0,119.0C391.0,122.0 394.4,123.8 395.0,127.0C395.6,130.2 394.4,131.8 393.0,135.0C391.6,138.2 389.8,139.4 388.0,143.0C386.2,146.6 384.0,153.0 384.0,153.0C384.0,153.0 341.5,153.0 341.5,153.0C341.5,153.0 341.8,148.7 342.6,147.0C343.4,145.3 344.2,146.7 345.4,144.3C346.6,141.9 347.7,139.5 348.5,135.2C349.3,130.9 348.9,127.0 349.5,123.0C350.1,119.0 350.9,119.6 351.3,115.0C351.7,110.4 351.3,105.9 351.5,100.0C351.7,94.1 352.0,90.1 352.3,85.3C352.6,80.5 352.3,78.3 352.8,76.0C353.3,73.7 354.3,75.0 355.0,73.8C355.7,72.6 356.1,71.8 356.3,70.0C356.5,68.2 356.3,66.8 355.8,65.0C355.3,63.2 354.7,62.6 354.0,61.0C353.3,59.4 352.5,58.5 352.3,57.2C352.1,55.9 352.2,55.1 352.8,54.7Z" fill="#ff0000" />
<path d="M349.5,123.0C350.4,120.6 351.6,123.0 353.0,123.4C354.4,123.8 355.1,124.9 356.6,125.1C358.1,125.3 359.0,124.2 360.6,124.6C362.2,125.0 362.6,126.4 364.7,127.1C366.8,127.8 367.7,127.4 371.0,128.0C374.3,128.6 379.2,128.6 381.0,130.0C382.8,131.4 381.2,132.4 380.0,135.0C378.8,137.6 377.0,139.4 375.0,143.0C373.0,146.6 370.0,153.0 370.0,153.0C370.0,153.0 343.6,153.0 343.6,153.0C343.6,153.0 344.0,150.7 344.4,149.0C344.8,147.3 344.6,147.1 345.4,144.3C346.2,141.5 347.7,139.5 348.5,135.2C349.3,130.9 348.6,125.4 349.5,123.0Z" fill="#ff00ff" />
<path d="M345.9,95.1C345.3,93.8 344.3,91.8 342.9,88.4C341.5,85.1 340.3,82.4 338.8,78.3C337.4,74.2 336.3,71.0 335.7,68.1C335.1,65.1 335.6,65.0 336.0,63.4C336.4,61.8 337.1,61.6 337.8,60.2C338.6,58.7 338.8,57.3 339.9,56.0C340.9,54.8 341.9,54.3 343.1,53.9C344.3,53.6 345.2,55.2 346.0,54.2C346.7,53.2 346.4,50.6 346.9,49.0C347.4,47.4 347.5,47.2 348.5,46.4C349.5,45.5 350.2,44.7 351.8,44.8C353.4,44.9 354.9,45.7 356.5,46.9C358.0,48.0 359.0,49.7 359.6,50.4" fill="none" stroke="#000" stroke-width="1.1" stroke-dasharray="2.4 1.1"/>
<path d="M346.6,94.8C346.0,93.5 345.0,91.5 343.6,88.1C342.2,84.8 341.0,82.1 339.5,78.0C338.1,74.0 337.0,70.8 336.4,67.9C335.9,65.0 336.3,65.1 336.7,63.6C337.1,62.1 337.8,61.9 338.5,60.5C339.2,59.1 339.5,57.7 340.4,56.5C341.4,55.3 342.1,55.0 343.3,54.6C344.5,54.3 345.7,55.8 346.6,54.7C347.4,53.6 347.1,50.8 347.6,49.2C348.1,47.7 348.2,47.7 349.0,46.9C349.8,46.2 350.4,45.4 351.8,45.5C353.2,45.7 354.6,46.4 356.0,47.5C357.5,48.5 358.5,50.2 359.1,50.9" fill="none" stroke="#0c0cb4" stroke-width="0.88" stroke-dasharray="1.6 1.4"/>
<path d="M329.2,125.0C330.0,123.7 331.4,121.3 333.2,118.3C335.0,115.3 336.1,113.4 338.3,110.2C340.5,107.0 342.5,104.8 344.4,102.1C346.3,99.4 347.3,97.6 348.0,96.5" fill="none" stroke="#0c0cb4" stroke-width="1.0" stroke-dasharray="1.6 1"/>
<path d="M328.6,129.5C329.9,127.4 332.6,122.9 334.8,119.3C337.1,115.7 337.6,114.5 339.9,111.3C342.1,108.1 344.0,105.9 346.0,103.2C347.9,100.4 348.9,98.7 349.6,97.5" fill="none" stroke="#000" stroke-width="2.5" stroke-dasharray="5 0.6"/>
<path d="M321.6,138.4 L328.0,129.2" fill="none" stroke="#000" stroke-width="1.2" stroke-dasharray="2.5 0.8"/>
<path d="M334.8,119.3C335.8,117.7 337.6,114.5 339.9,111.3C342.1,108.1 344.0,105.9 346.0,103.2C347.9,100.4 348.9,98.7 349.6,97.5" fill="none" stroke="#00d890" stroke-width="0.7" stroke-dasharray="1 3.2"/>
<path d="M335.8,119.9C336.8,118.3 338.5,115.1 340.8,111.9C343.0,108.7 344.9,106.6 346.8,103.8C348.8,101.1 349.8,99.3 350.5,98.1" fill="none" stroke="#00c8a0" stroke-width="0.7" stroke-dasharray="1 2"/>
<path d="M348.7,55.2C348.9,54.4 348.8,52.3 349.7,51.2C350.6,50.1 351.8,49.5 353.3,49.6C354.8,49.7 356.6,51.3 357.4,51.7" fill="none" stroke="#0c0cb4" stroke-width="0.98" stroke-dasharray="2.2 1.1"/>
<path d="M349.7,57.2C350.0,58.2 350.7,60.9 351.3,62.3C351.9,63.7 352.5,63.9 352.8,64.3" fill="none" stroke="#0c0cb4" stroke-width="0.98" stroke-dasharray="2.2 1.1"/>
<path d="M340.5,60.5C341.0,60.0 342.1,57.9 343.0,58.0C343.9,58.1 344.2,60.9 345.0,61.0C345.8,61.1 346.2,58.4 347.0,58.5C347.8,58.6 348.6,60.9 349.0,61.5" fill="none" stroke="#000" stroke-width="1.0"/>
<path d="M343.0,62.0C343.5,62.8 344.6,65.6 345.5,66.0C346.4,66.4 346.7,63.6 347.5,64.0C348.3,64.4 349.4,66.4 349.5,68.0C349.6,69.6 348.0,70.4 348.0,72.0C348.0,73.6 349.1,73.6 349.5,76.0C349.9,78.4 349.8,80.8 350.0,84.0C350.2,87.2 350.4,90.4 350.5,92.0" fill="none" stroke="#000" stroke-width="1.0" stroke-dasharray="2 1"/>
<path d="M343.5,68.0C343.6,69.2 343.5,71.6 344.0,74.0C344.5,76.4 345.2,77.2 346.0,80.0C346.8,82.8 347.0,85.4 348.0,88.0C349.0,90.6 350.2,92.0 350.8,93.0" fill="none" stroke="#000" stroke-width="1.0" stroke-dasharray="2 1"/>
<path d="M367.5,69.1C367.6,68.5 367.2,67.1 367.8,66.0C368.4,64.9 369.1,64.2 370.5,63.8C371.9,63.4 373.4,63.1 374.6,63.8C375.8,64.5 375.9,65.1 376.6,67.4C377.3,69.7 378.1,72.1 378.1,75.1C378.1,78.1 376.9,80.8 376.6,82.2" fill="none" stroke="#0c0cb4" stroke-width="0.98" stroke-dasharray="2 1"/>
<path d="M367.5,69.1C368.0,69.4 369.0,69.9 370.0,70.5C371.0,71.1 372.1,70.2 372.6,72.1C373.1,74.0 372.7,77.0 372.6,80.2C372.5,83.4 372.2,86.7 372.1,88.3" fill="none" stroke="#0c0cb4" stroke-width="0.98" stroke-dasharray="2 1"/>
<path d="M354.2,73.5C354.2,72.5 353.6,69.9 354.0,68.5C354.4,67.1 355.4,66.3 356.2,66.3C357.0,66.3 357.7,67.2 358.2,68.5C358.7,69.8 359.1,71.8 358.8,73.0C358.5,74.2 357.4,74.2 356.5,74.3C355.6,74.4 354.7,73.7 354.2,73.5" fill="none" stroke="#000" stroke-width="1.0"/>
<ellipse cx="374.6" cy="87.3" rx="1.1" ry="6.2" fill="none" stroke="#000" stroke-width="0.75" transform="rotate(9 374.6 87.3)"/>
<ellipse cx="328" cy="138" rx="1.2" ry="5" fill="none" stroke="#000" stroke-width="0.88" transform="rotate(10 328 138)"/>
<path d="M346.4,126.1C346.2,127.5 345.8,130.6 345.6,133.0C345.4,135.4 345.7,136.0 345.4,138.3C345.1,140.6 344.2,143.1 343.9,144.3" fill="none" stroke="#000" stroke-width="1.2"/>
<path d="M351.5,98.0C351.5,100.4 351.7,105.4 351.5,110.0C351.3,114.6 351.0,116.8 350.5,121.0C350.0,125.2 349.9,127.0 349.0,131.0C348.1,135.0 346.9,137.6 346.0,141.0C345.1,144.4 344.8,146.6 344.5,148.0" fill="none" stroke="#0c0cb4" stroke-width="0.75" stroke-dasharray="1.6 1"/>
<ellipse cx="397.4" cy="60.6" rx="0.8" ry="0.8" fill="#000"/>
</g>
<g clip-path="url(#kd)">
<path d="M42.0,210.0C42.1,208.0 42.2,207.3 43.0,206.0C43.8,204.7 44.6,204.3 46.0,203.3C47.4,202.3 48.2,202.0 50.0,201.2C51.8,200.4 52.9,200.0 55.0,199.5C57.1,199.0 57.2,198.8 60.3,198.6C63.4,198.4 66.3,198.4 70.4,198.5C74.5,198.6 76.7,199.0 80.6,199.3C84.5,199.6 84.9,200.3 90.0,200.0C95.1,199.7 102.0,198.6 106.0,198.0C110.0,197.4 106.8,197.2 110.0,197.0C113.2,196.8 118.6,196.6 122.0,197.0C125.4,197.4 125.4,197.6 127.0,199.0C128.6,200.4 129.7,202.0 130.0,204.0C130.3,206.0 128.9,207.4 128.5,209.0C128.1,210.6 127.3,210.8 128.0,212.0C128.7,213.2 130.4,214.0 132.0,215.0C133.6,216.0 134.4,215.6 136.0,217.0C137.6,218.4 139.2,220.4 140.0,222.0C140.8,223.6 140.8,223.2 140.0,225.0C139.2,226.8 138.8,229.2 136.0,231.0C133.2,232.8 131.2,233.6 126.0,234.0C120.8,234.4 116.0,232.8 110.0,233.0C104.0,233.2 100.0,234.1 96.0,235.0C92.0,235.9 91.7,236.4 90.0,237.3C88.3,238.2 88.2,238.5 87.3,239.7C86.4,240.9 86.3,241.9 85.7,243.5C85.1,245.1 84.9,246.1 84.1,247.8C83.3,249.5 82.5,250.9 81.5,252.0C80.5,253.1 80.0,253.1 79.0,253.3C78.0,253.5 77.9,253.6 76.5,253.0C75.1,252.4 74.0,251.6 71.9,250.3C69.8,249.0 68.5,247.7 66.2,246.4C63.9,245.1 62.8,245.3 60.5,243.8C58.2,242.3 57.0,241.0 54.9,239.0C52.8,237.0 51.8,236.2 50.0,234.0C48.2,231.8 47.2,230.4 46.0,228.0C44.8,225.6 44.5,224.4 43.8,222.0C43.1,219.6 43.0,218.4 42.6,216.0C42.2,213.6 41.9,212.0 42.0,210.0Z" fill="#0fe00f" />
<path d="M44.5,210.0C45.0,207.8 45.7,206.4 47.0,205.0C48.3,203.6 49.2,203.6 51.0,202.8C52.8,202.0 53.8,201.7 56.0,201.2C58.2,200.7 59.2,200.7 62.0,200.5C64.8,200.3 66.4,200.2 70.0,200.3C73.6,200.4 76.0,200.7 80.0,201.0C84.0,201.3 86.8,201.5 90.0,201.8C93.2,202.1 92.0,203.0 96.0,202.6C100.0,202.2 105.2,200.7 110.0,200.0C114.8,199.3 117.0,198.8 120.0,199.0C123.0,199.2 123.6,200.0 125.0,201.0C126.4,202.0 127.0,202.4 127.0,204.0C127.0,205.6 125.6,207.4 125.0,209.0C124.4,210.6 123.4,210.6 124.0,212.0C124.6,213.4 126.4,214.8 128.0,216.0C129.6,217.2 130.8,216.8 132.0,218.0C133.2,219.2 133.6,220.6 134.0,222.0C134.4,223.4 135.2,223.4 134.0,225.0C132.8,226.6 132.8,228.8 128.0,230.0C123.2,231.2 116.4,230.5 110.0,231.0C103.6,231.5 100.1,231.7 96.0,232.6C91.9,233.5 91.5,234.1 89.5,235.3C87.5,236.5 87.1,237.0 86.0,238.5C84.9,240.0 84.8,241.3 84.2,243.0C83.6,244.7 83.5,245.5 82.8,247.0C82.1,248.5 81.6,249.7 80.8,250.6C80.0,251.5 79.6,251.5 78.8,251.6C78.0,251.7 78.1,251.8 76.8,251.2C75.5,250.6 74.5,249.9 72.5,248.7C70.5,247.5 69.2,246.3 67.0,245.0C64.8,243.7 63.5,243.6 61.3,242.2C59.1,240.8 58.2,239.8 56.2,238.0C54.2,236.2 53.2,235.1 51.5,233.0C49.8,230.9 49.0,229.7 47.8,227.5C46.6,225.3 46.2,224.3 45.6,222.0C45.0,219.7 44.8,218.4 44.6,216.0C44.4,213.6 44.0,212.2 44.5,210.0Z" fill="#10b414" />
<path d="M47.3,210.0C47.8,208.0 48.4,207.2 49.5,206.0C50.6,204.8 51.3,204.7 53.0,204.0C54.7,203.3 55.8,203.0 58.0,202.6C60.2,202.2 61.6,202.2 64.0,202.0C66.4,201.8 66.8,201.7 70.0,201.8C73.2,201.9 76.0,202.2 80.0,202.6C84.0,203.0 84.8,203.5 90.0,203.8C95.2,204.1 100.8,204.0 106.0,204.0C111.2,204.0 113.2,203.2 116.0,204.0C118.8,204.8 119.6,206.6 120.0,208.0C120.4,209.4 118.8,209.8 118.0,211.0C117.2,212.2 115.6,212.2 116.0,214.0C116.4,215.8 118.0,218.6 120.0,220.0C122.0,221.4 124.8,220.3 126.0,221.0C127.2,221.7 126.4,222.6 126.0,223.5C125.6,224.4 127.2,224.5 124.0,225.5C120.8,226.5 115.8,227.4 110.0,228.5C104.2,229.6 99.3,229.8 95.0,230.8C90.7,231.8 90.6,232.3 88.5,233.5C86.4,234.7 85.6,235.2 84.5,237.0C83.4,238.8 83.4,240.6 82.8,242.5C82.2,244.4 82.1,245.1 81.5,246.5C80.9,247.9 80.4,248.8 79.8,249.6C79.2,250.4 79.1,250.3 78.5,250.4C77.9,250.5 78.1,250.6 77.0,250.0C75.9,249.4 74.9,248.8 73.0,247.6C71.1,246.4 69.8,245.2 67.6,243.8C65.4,242.4 64.0,242.1 62.0,240.7C60.0,239.3 59.3,238.7 57.5,237.0C55.7,235.3 54.6,234.0 53.0,232.0C51.4,230.0 50.5,229.0 49.4,227.0C48.3,225.0 48.1,224.2 47.6,222.0C47.1,219.8 47.1,218.4 47.0,216.0C46.9,213.6 46.8,212.0 47.3,210.0Z" fill="#078a0a" />
<path d="M50.0,214.0C50.2,211.9 50.2,210.2 51.0,208.5C51.8,206.8 52.2,206.2 54.0,205.3C55.8,204.4 56.8,204.3 60.0,204.0C63.2,203.7 66.0,203.6 70.0,203.8C74.0,204.0 76.8,204.6 80.0,205.2C83.2,205.8 82.0,205.8 86.0,206.8C90.0,207.8 95.6,209.0 100.0,210.0C104.4,211.0 105.8,210.8 108.0,212.0C110.2,213.2 110.0,214.3 111.0,216.0C112.0,217.7 113.2,218.7 113.0,220.5C112.8,222.3 112.6,223.8 110.0,225.0C107.4,226.2 103.7,225.8 100.0,226.5C96.3,227.2 94.5,227.5 91.7,228.3C88.9,229.1 88.0,229.7 86.0,230.5C84.0,231.3 82.6,231.0 81.5,232.5C80.4,234.0 80.7,235.6 80.3,238.0C79.9,240.4 79.9,242.5 79.4,244.6C78.9,246.7 78.3,247.7 77.6,248.6C76.9,249.5 76.8,249.3 76.0,249.3C75.2,249.3 75.1,249.5 73.5,248.5C71.9,247.5 70.1,246.2 67.8,244.4C65.5,242.6 64.2,241.0 62.2,239.4C60.2,237.8 59.3,237.9 57.6,236.2C55.9,234.5 54.9,233.2 53.5,231.0C52.1,228.8 51.3,227.4 50.6,225.0C49.9,222.6 49.9,221.2 49.8,219.0C49.7,216.8 49.8,216.1 50.0,214.0Z" fill="#fff000" />
<path d="M51.3,215.0C51.7,213.0 52.1,211.5 53.0,210.0C53.9,208.5 54.2,207.9 56.0,207.5C57.8,207.1 59.3,207.1 62.0,208.0C64.7,208.9 64.2,210.8 69.4,211.8C74.6,212.8 82.1,212.2 87.8,213.0C93.5,213.8 95.2,214.9 98.0,216.0C100.8,217.1 101.2,217.7 101.6,218.7C102.0,219.7 101.8,220.1 100.0,221.0C98.2,221.9 96.2,221.9 92.4,223.0C88.6,224.1 85.1,225.3 81.0,226.7C76.9,228.1 74.5,228.4 71.7,230.0C68.9,231.6 68.6,233.3 67.0,234.8C65.4,236.3 64.9,237.2 63.5,237.5C62.1,237.8 61.6,237.6 60.0,236.5C58.4,235.4 57.1,234.0 55.5,232.0C53.9,230.0 53.1,229.1 52.2,226.7C51.3,224.3 51.4,222.3 51.2,220.0C51.0,217.7 50.9,217.0 51.3,215.0Z" fill="#e8c000" />
<path d="M63.8,231.2C64.8,230.1 64.6,230.6 66.3,230.0C68.0,229.4 70.2,228.7 72.4,228.1C74.6,227.5 76.0,226.5 77.5,227.1C79.0,227.7 79.4,228.8 80.0,231.0C80.6,233.2 80.6,235.0 80.5,238.0C80.4,241.0 80.4,244.3 79.5,246.0C78.6,247.7 77.9,247.3 76.0,246.5C74.1,245.7 72.4,243.6 70.0,242.0C67.6,240.4 65.7,239.8 64.0,238.5C62.3,237.2 61.5,237.2 61.5,235.7C61.5,234.2 62.8,232.3 63.8,231.2Z" fill="#fff000" />
<ellipse cx="79.8" cy="219.9" rx="4.8" ry="3" fill="#ff9a00" transform="rotate(-5 79.8 219.9)"/>
<ellipse cx="57.4" cy="214.3" rx="3" ry="1.6" fill="#ff9a00"/>
<ellipse cx="60.8" cy="211.3" rx="1.3" ry="1.1" fill="#ff2000"/>
<ellipse cx="57.4" cy="221.6" rx="1.6" ry="1.2" fill="#ff9a00"/>
<ellipse cx="56.3" cy="227.8" rx="3.0" ry="7.6" fill="#d08a00" transform="rotate(-40 56.3 227.8)"/>
<path d="M50.1,202.2C50.7,201.6 51.2,200.2 53.2,199.1C55.2,198.0 56.9,197.4 60.3,196.6C63.7,195.8 66.3,195.3 70.4,194.9C74.5,194.5 77.6,194.5 80.6,194.6C83.6,194.7 84.3,194.9 85.6,195.6C86.9,196.3 87.4,197.2 87.2,198.1C87.0,199.0 86.9,199.4 84.6,199.9C82.3,200.4 78.3,200.3 75.5,200.6C72.7,200.9 73.1,201.0 70.4,201.2C67.7,201.4 64.8,200.9 62.0,201.5C59.2,202.1 58.2,203.5 56.2,204.2C54.2,204.9 53.4,205.6 52.2,205.2C51.0,204.8 50.5,202.8 50.1,202.2" fill="none" stroke="#000" stroke-width="1.06" stroke-dasharray="2.4 1"/>
<path d="M52.2,204.6l1.6,-2.2" stroke="#000" stroke-width="0.8"/>
<path d="M54.3,204.3l1.6,-2.2" stroke="#000" stroke-width="0.8"/>
<path d="M56.5,204.1l1.6,-2.2" stroke="#000" stroke-width="0.8"/>
<path d="M58.6,203.8l1.6,-2.2" stroke="#000" stroke-width="0.8"/>
<path d="M60.7,203.6l1.6,-2.2" stroke="#000" stroke-width="0.8"/>
<path d="M62.8,203.3l1.6,-2.2" stroke="#000" stroke-width="0.8"/>
<path d="M65.0,203.1l1.6,-2.2" stroke="#000" stroke-width="0.8"/>
<path d="M67.1,202.8l1.6,-2.2" stroke="#000" stroke-width="0.8"/>
<path d="M69.2,202.6l1.6,-2.2" stroke="#000" stroke-width="0.8"/>
<path d="M55.6,206.4l-1.2,-1.8" stroke="#000" stroke-width="0.7"/>
<path d="M58.2,206.0l-1.2,-1.8" stroke="#000" stroke-width="0.7"/>
<path d="M60.8,205.6l-1.2,-1.8" stroke="#000" stroke-width="0.7"/>
<path d="M63.4,205.2l-1.2,-1.8" stroke="#000" stroke-width="0.7"/>
<path d="M66.0,204.8l-1.2,-1.8" stroke="#000" stroke-width="0.7"/>
<path d="M68.6,204.4l-1.2,-1.8" stroke="#000" stroke-width="0.7"/>
<path d="M68.0,203.0C68.5,203.5 70.2,204.4 70.5,205.5C70.8,206.6 70.3,208.1 69.5,208.5C68.7,208.9 67.1,208.3 66.5,207.5C65.9,206.7 66.5,205.1 66.5,204.5" fill="none" stroke="#000" stroke-width="0.88" stroke-dasharray="1.4 0.8"/>
<path d="M79.6,208.8C80.2,208.5 80.6,207.3 82.6,207.2C84.6,207.1 87.8,208.3 89.7,208.3C91.6,208.3 90.7,207.5 92.0,207.0C93.3,206.5 93.6,206.2 96.0,206.0C98.4,205.8 101.6,205.6 104.0,206.0C106.4,206.4 106.8,206.4 108.0,208.0C109.2,209.6 109.2,211.8 110.0,214.0C110.8,216.2 110.4,217.4 112.0,219.0C113.6,220.6 118.4,220.8 118.0,222.0C117.6,223.2 114.0,223.9 110.0,225.0C106.0,226.1 101.7,227.0 98.0,227.5C94.3,228.0 94.1,227.1 91.7,227.6C89.3,228.1 87.8,229.7 86.0,230.0C84.2,230.3 83.3,229.4 82.6,229.2" fill="none" stroke="#000" stroke-width="1.06" stroke-dasharray="2.2 1"/>
<path d="M74.5,215.4C74.1,214.7 72.2,213.3 72.5,212.0C72.8,210.7 74.8,208.8 76.0,209.0C77.2,209.2 77.4,211.7 78.5,212.8C79.6,213.9 80.2,213.8 81.6,214.3C83.0,214.8 84.4,214.8 85.6,215.4C86.8,216.0 87.6,216.3 87.7,217.4C87.8,218.5 86.7,219.8 86.0,221.0C85.3,222.2 85.2,223.2 84.0,223.5C82.8,223.8 81.4,222.2 80.0,222.5C78.6,222.8 77.7,225.3 77.0,225.0C76.3,224.7 76.8,222.4 76.5,221.0C76.2,219.6 75.7,218.6 75.5,218.0" fill="none" stroke="#000" stroke-width="1.0" stroke-dasharray="2 1"/>
<path d="M77.0,218.0C76.9,219.2 76.2,221.9 76.5,224.1C76.8,226.3 77.8,227.2 78.5,229.2C79.2,231.2 79.6,231.8 80.0,234.2C80.4,236.6 80.3,238.7 80.5,241.3C80.7,243.9 81.1,245.2 81.0,247.4C80.9,249.6 80.9,251.5 80.0,252.5C79.1,253.5 77.2,252.5 76.5,252.5" fill="none" stroke="#000" stroke-width="1.0" stroke-dasharray="2.2 1"/>
<path d="M74.0,250.0C75.0,250.6 77.2,252.9 79.0,253.0C80.8,253.1 81.8,251.9 83.0,250.5C84.2,249.1 84.6,248.1 85.0,246.0C85.4,243.9 85.0,241.2 85.0,240.0" fill="none" stroke="#000" stroke-width="0.88" stroke-dasharray="2 1"/>
<ellipse cx="56.3" cy="227.8" rx="1.6" ry="3.5200000000000005" fill="none" stroke="#1a0d00" stroke-width="0.7" transform="rotate(-40 56.3 227.8)"/>
<ellipse cx="56.3" cy="227.8" rx="2.8" ry="6.16" fill="none" stroke="#1a0d00" stroke-width="0.7" transform="rotate(-40 56.3 227.8)"/>
<ellipse cx="56.3" cy="227.8" rx="4.0" ry="8.8" fill="none" stroke="#1a0d00" stroke-width="0.7" transform="rotate(-40 56.3 227.8)"/>
<ellipse cx="56.3" cy="227.8" rx="4.9" ry="9.6" fill="none" stroke="#000" stroke-width="0.75" transform="rotate(-40 56.3 227.8)"/>
<ellipse cx="60.3" cy="207" rx="1.8" ry="6" fill="none" stroke="#1a1ad0" stroke-width="0.94" transform="rotate(43 60.3 207)"/>
<ellipse cx="65.4" cy="211.8" rx="2.1" ry="3.4" fill="none" stroke="#1a1ad0" stroke-width="0.94" transform="rotate(20 65.4 211.8)"/>
<ellipse cx="57.2" cy="214.3" rx="3.3" ry="1.8" fill="none" stroke="#000" stroke-width="0.88"/>
<ellipse cx="59.2" cy="222.3" rx="1.2" ry="1.2" fill="none" stroke="#000" stroke-width="0.75"/>
<ellipse cx="69.1" cy="242.8" rx="7.8" ry="1.9" fill="#ffe800" stroke="#1a1ad0" stroke-width="0.94" transform="rotate(31 69.1 242.8)"/>
<ellipse cx="74.3" cy="233.2" rx="1.8" ry="1.8" fill="none" stroke="#000" stroke-width="0.81"/>
<ellipse cx="65.8" cy="235.7" rx="0.8" ry="0.8" fill="#000"/>
<ellipse cx="70.4" cy="236.8" rx="0.8" ry="0.8" fill="#000"/>
<path d="M74.1,239.7l0.8,-2.4" stroke="#000" stroke-width="0.8"/>
<path d="M75.2,240.7l0.8,-2.4" stroke="#000" stroke-width="0.8"/>
<path d="M76.3,241.7l0.8,-2.4" stroke="#000" stroke-width="0.8"/>
<path d="M77.5,242.7l0.8,-2.4" stroke="#000" stroke-width="0.8"/>
<path d="M78.6,243.7l0.8,-2.4" stroke="#000" stroke-width="0.8"/>
<path d="M70.5,239.0l-1.0,-2.0" stroke="#000" stroke-width="0.7"/>
<path d="M72.5,240.8l-1.0,-2.0" stroke="#000" stroke-width="0.7"/>
<path d="M74.5,242.7l-1.0,-2.0" stroke="#000" stroke-width="0.7"/>
<path d="M76.5,244.5l-1.0,-2.0" stroke="#000" stroke-width="0.7"/>
<ellipse cx="118" cy="202.5" rx="0.9" ry="0.5" fill="#000"/>
</g>
<g clip-path="url(#ke)">
<path d="M196.0,210.0C196.2,208.0 196.4,207.5 197.2,206.0C198.0,204.5 198.6,203.7 200.0,202.6C201.4,201.5 202.0,201.1 204.0,200.3C206.0,199.5 207.2,199.2 210.0,198.6C212.8,198.0 214.8,197.7 218.0,197.4C221.2,197.1 222.4,196.9 226.0,197.0C229.6,197.1 232.2,197.5 236.0,198.0C239.8,198.5 242.2,199.1 245.0,199.5C247.8,199.9 246.6,200.3 250.0,200.0C253.4,199.7 257.2,198.6 262.0,198.0C266.8,197.4 270.6,196.9 274.0,197.0C277.4,197.1 277.6,197.7 279.0,198.5C280.4,199.3 280.4,199.5 281.0,201.0C281.6,202.5 282.1,204.2 282.0,206.0C281.9,207.8 280.7,208.6 280.5,210.0C280.3,211.4 280.1,211.9 281.0,213.0C281.9,214.1 283.2,214.5 285.0,215.5C286.8,216.5 288.4,216.7 290.0,218.0C291.6,219.3 292.4,220.6 293.0,222.0C293.6,223.4 293.4,223.8 293.0,225.0C292.6,226.2 292.8,226.6 291.0,228.0C289.2,229.4 288.2,230.8 284.0,232.0C279.8,233.2 276.0,233.8 270.0,234.0C264.0,234.2 258.8,232.8 254.0,233.0C249.2,233.2 248.5,234.3 246.0,235.0C243.5,235.7 242.8,235.5 241.5,236.5C240.2,237.5 240.1,238.5 239.5,240.0C238.9,241.5 238.8,242.4 238.3,244.0C237.8,245.6 237.7,246.7 237.1,248.2C236.5,249.7 236.3,250.4 235.5,251.5C234.7,252.6 234.1,253.0 233.0,253.5C231.9,254.0 231.4,254.2 229.8,253.9C228.2,253.6 227.0,253.0 224.9,251.9C222.8,250.8 221.6,249.7 219.2,248.2C216.8,246.7 215.1,245.8 212.7,244.2C210.3,242.6 209.0,242.0 207.1,240.1C205.2,238.2 204.6,236.8 203.0,234.5C201.4,232.2 200.2,231.0 199.0,228.5C197.8,226.0 197.4,224.5 196.8,222.0C196.2,219.5 196.4,218.4 196.2,216.0C196.0,213.6 195.8,212.0 196.0,210.0Z" fill="#0fe00f" />
<path d="M198.5,210.0C198.7,208.1 198.9,207.6 199.6,206.3C200.3,205.0 200.7,204.5 202.0,203.6C203.3,202.7 204.0,202.3 206.0,201.6C208.0,200.9 209.4,200.7 212.0,200.2C214.6,199.7 216.2,199.5 219.0,199.3C221.8,199.1 222.6,198.9 226.0,199.0C229.4,199.1 232.2,199.5 236.0,200.0C239.8,200.5 241.0,201.0 245.0,201.4C249.0,201.8 252.2,202.3 256.0,202.0C259.8,201.7 261.2,200.6 264.0,200.0C266.8,199.4 267.8,199.0 270.0,199.0C272.2,199.0 273.4,199.4 275.0,200.0C276.6,200.6 277.4,200.8 278.0,202.0C278.6,203.2 278.2,204.8 278.0,206.0C277.8,207.2 277.7,207.0 277.0,208.0C276.3,209.0 274.9,209.8 274.5,211.0C274.1,212.2 274.1,213.0 275.0,214.0C275.9,215.0 277.2,215.2 279.0,216.0C280.8,216.8 282.4,216.8 284.0,218.0C285.6,219.2 286.4,220.4 287.0,222.0C287.6,223.6 288.4,224.4 287.0,226.0C285.6,227.6 284.2,228.8 280.0,230.0C275.8,231.2 271.2,231.8 266.0,232.0C260.8,232.2 258.2,230.8 254.0,231.0C249.8,231.2 247.8,232.1 245.0,233.0C242.2,233.9 241.4,234.2 240.0,235.5C238.6,236.8 238.5,237.8 237.8,239.5C237.1,241.2 237.1,242.4 236.6,244.0C236.1,245.6 236.0,246.3 235.5,247.6C235.0,248.9 234.6,249.5 234.0,250.3C233.4,251.1 233.2,251.4 232.4,251.7C231.6,252.0 231.4,252.2 230.0,251.9C228.6,251.6 227.5,251.1 225.5,250.0C223.5,248.9 222.4,248.1 220.0,246.6C217.6,245.1 216.0,244.2 213.7,242.6C211.4,241.0 210.2,240.6 208.4,238.8C206.6,237.0 206.1,235.8 204.6,233.6C203.1,231.4 202.1,230.3 201.0,228.0C199.9,225.7 199.5,224.4 199.0,222.0C198.5,219.6 198.6,218.4 198.5,216.0C198.4,213.6 198.3,211.9 198.5,210.0Z" fill="#10b414" />
<path d="M201.0,210.0C201.2,208.2 201.4,207.8 202.0,206.8C202.6,205.8 202.8,205.5 204.0,204.8C205.2,204.1 206.0,203.8 208.0,203.2C210.0,202.6 211.6,202.4 214.0,202.0C216.4,201.6 217.6,201.4 220.0,201.2C222.4,201.0 222.4,200.7 226.0,201.0C229.6,201.3 233.2,202.1 238.0,202.6C242.8,203.1 245.6,203.4 250.0,203.6C254.4,203.8 257.2,203.6 260.0,203.5C262.8,203.4 262.6,202.7 264.0,203.0C265.4,203.3 266.2,204.0 267.0,205.0C267.8,206.0 268.0,206.8 268.0,208.0C268.0,209.2 267.4,209.8 267.0,211.0C266.6,212.2 266.0,212.8 266.0,214.0C266.0,215.2 266.2,216.0 267.0,217.0C267.8,218.0 268.2,218.3 270.0,219.0C271.8,219.7 274.0,219.9 276.0,220.5C278.0,221.1 279.3,221.2 280.0,222.0C280.7,222.8 279.9,223.7 279.5,224.5C279.1,225.3 280.7,225.1 278.0,226.0C275.3,226.9 271.6,228.2 266.0,229.0C260.4,229.8 254.5,229.6 250.0,230.2C245.5,230.8 245.9,230.9 243.5,231.8C241.1,232.7 239.7,233.1 238.2,234.5C236.7,235.9 236.5,237.1 235.8,239.0C235.1,240.9 235.2,242.3 234.8,244.0C234.4,245.7 234.2,246.3 233.8,247.4C233.4,248.5 233.1,249.0 232.6,249.6C232.1,250.2 231.9,250.2 231.4,250.4C230.9,250.6 231.1,250.9 230.0,250.5C228.9,250.1 227.9,249.7 226.0,248.6C224.1,247.5 222.9,246.6 220.6,245.2C218.3,243.8 216.8,242.9 214.6,241.4C212.4,239.9 211.3,239.5 209.6,237.8C207.9,236.1 207.4,235.1 206.0,233.0C204.6,230.9 203.8,229.7 202.8,227.5C201.8,225.3 201.6,224.3 201.2,222.0C200.8,219.7 201.0,218.4 201.0,216.0C201.0,213.6 200.8,211.8 201.0,210.0Z" fill="#078a0a" />
<path d="M203.0,212.0C203.1,210.0 202.9,209.4 203.5,208.0C204.1,206.6 204.7,206.0 206.2,205.2C207.7,204.4 208.4,204.3 211.2,204.0C214.0,203.7 217.6,203.6 220.4,203.8C223.2,204.0 222.4,204.3 225.4,205.0C228.4,205.7 231.7,206.5 235.6,207.2C239.5,207.9 241.8,207.9 244.7,208.3C247.6,208.7 247.3,208.7 250.0,209.0C252.7,209.3 255.9,209.0 258.0,210.0C260.1,211.0 259.7,212.8 260.5,214.0C261.3,215.2 260.9,214.9 262.0,216.0C263.1,217.1 265.0,218.5 266.0,219.5C267.0,220.5 267.4,220.3 267.0,221.0C266.6,221.7 266.2,222.0 264.0,223.0C261.8,224.0 259.6,224.8 256.0,226.0C252.4,227.2 249.2,228.1 246.0,229.0C242.8,229.9 242.1,229.9 240.0,230.5C237.9,231.1 237.0,231.1 235.5,232.0C234.0,232.9 233.2,233.4 232.6,235.0C232.0,236.6 232.5,237.9 232.3,240.0C232.1,242.1 232.1,243.6 231.8,245.4C231.5,247.2 231.0,247.9 230.6,248.8C230.2,249.7 230.1,249.6 229.6,249.7C229.1,249.8 228.8,249.7 228.0,249.4C227.2,249.1 227.5,249.2 225.7,248.0C223.9,246.8 221.8,245.1 219.2,243.4C216.6,241.7 214.8,240.9 212.7,239.3C210.6,237.7 210.0,237.4 208.5,235.6C207.0,233.8 206.2,232.6 205.2,230.5C204.2,228.4 203.7,227.5 203.3,225.0C202.9,222.5 203.1,220.6 203.0,218.0C202.9,215.4 202.9,214.0 203.0,212.0Z" fill="#fff000" />
<path d="M204.0,214.0C204.4,211.3 205.0,211.7 206.0,210.7C207.0,209.7 207.6,209.3 209.0,208.8C210.4,208.3 210.6,208.3 213.0,208.4C215.4,208.5 217.8,209.0 221.0,209.5C224.2,210.0 224.6,210.2 229.0,210.7C233.4,211.2 238.6,211.1 242.8,211.8C247.0,212.5 248.0,213.1 250.0,214.0C252.0,214.9 252.1,215.2 253.0,216.4C253.9,217.6 254.5,218.7 254.3,219.9C254.1,221.1 253.4,221.6 252.0,222.5C250.6,223.4 250.6,223.3 247.4,224.4C244.2,225.5 239.7,226.5 236.0,227.9C232.3,229.3 231.0,229.7 229.0,231.3C227.0,232.9 227.4,234.4 226.0,236.0C224.6,237.6 224.0,238.8 222.0,239.5C220.0,240.2 218.2,240.0 216.0,239.5C213.8,239.0 213.0,238.7 211.0,237.0C209.0,235.3 207.4,233.5 206.0,231.0C204.6,228.5 204.4,227.8 204.0,224.4C203.6,221.0 203.6,216.7 204.0,214.0Z" fill="#e8c000" />
<path d="M218.3,233.0C218.3,231.6 218.6,230.5 220.0,229.5C221.4,228.5 223.4,228.1 225.4,228.0C227.4,227.9 228.6,228.1 230.0,229.0C231.4,229.9 232.2,231.3 232.5,232.7C232.8,234.1 232.8,235.1 231.5,236.0C230.2,236.9 228.3,237.1 226.0,237.2C223.7,237.3 221.5,237.3 220.0,236.5C218.5,235.7 218.3,234.4 218.3,233.0Z" fill="#fff000" />
<path d="M209.2,211.0C209.9,210.4 210.8,210.2 212.0,210.3C213.2,210.4 214.5,210.6 215.3,211.5C216.1,212.4 216.0,213.5 215.8,215.0C215.6,216.5 215.5,218.1 214.5,219.0C213.5,219.9 212.1,219.8 211.0,219.4C209.9,219.0 209.5,218.2 209.0,217.0C208.5,215.8 208.6,214.7 208.6,213.5C208.6,212.3 208.5,211.6 209.2,211.0Z" fill="#ff9a00" />
<ellipse cx="231.3" cy="219.9" rx="6" ry="2.3" fill="#ff9a00"/>
<ellipse cx="229.5" cy="221.5" rx="4.5" ry="1.6" fill="#ff9a00"/>
<ellipse cx="211.7" cy="215.9" rx="1.0" ry="0.9" fill="#000"/>
<ellipse cx="209.2" cy="229.4" rx="3.2" ry="8.2" fill="#d08a00" transform="rotate(-38 209.2 229.4)"/>
<path d="M205.1,201.2C206.5,200.5 209.1,198.7 212.2,197.6C215.3,196.5 216.7,196.1 220.4,195.6C224.1,195.1 227.1,195.2 230.5,195.3C233.9,195.4 236.1,195.8 237.6,196.3C239.1,196.8 238.2,197.3 238.2,197.8C238.2,198.3 239.5,198.2 237.6,198.6C235.7,199.0 231.3,198.9 228.5,199.6C225.7,200.3 225.5,201.7 223.4,202.2C221.3,202.7 220.3,201.7 218.0,202.0C215.7,202.3 214.2,202.8 212.0,203.5C209.8,204.2 208.5,205.4 207.0,205.5C205.5,205.6 205.0,204.9 204.6,204.0C204.2,203.1 205.0,201.8 205.1,201.2" fill="none" stroke="#000" stroke-width="1.06" stroke-dasharray="2.4 1"/>
<path d="M222.0,196.6C222.8,196.5 224.0,196.1 226.0,196.0C228.0,195.9 229.8,195.8 232.0,196.0C234.2,196.2 236.0,196.6 237.0,196.8" fill="none" stroke="#000" stroke-width="1.0" stroke-dasharray="1.1 0.9"/>
<path d="M206.2,204.0l1.6,-2.0" stroke="#000" stroke-width="0.8"/>
<path d="M208.4,203.4l1.6,-2.0" stroke="#000" stroke-width="0.8"/>
<path d="M210.5,202.8l1.6,-2.0" stroke="#000" stroke-width="0.8"/>
<path d="M212.7,202.2l1.6,-2.0" stroke="#000" stroke-width="0.8"/>
<path d="M214.9,201.7l1.6,-2.0" stroke="#000" stroke-width="0.8"/>
<path d="M217.0,201.1l1.6,-2.0" stroke="#000" stroke-width="0.8"/>
<path d="M219.2,200.5l1.6,-2.0" stroke="#000" stroke-width="0.8"/>
<path d="M220.4,200.3l2.2,0.4" stroke="#000" stroke-width="0.7"/>
<path d="M221.5,202.4l2.2,0.4" stroke="#000" stroke-width="0.7"/>
<path d="M222.7,204.6l2.2,0.4" stroke="#000" stroke-width="0.7"/>
<path d="M223.8,206.7l2.2,0.4" stroke="#000" stroke-width="0.7"/>
<path d="M224.9,208.8l2.2,0.4" stroke="#000" stroke-width="0.7"/>
<path d="M221.4,199.0C221.5,200.0 221.4,202.2 221.8,204.0C222.2,205.8 222.6,206.8 223.5,208.0C224.4,209.2 225.8,209.6 226.4,210.0" fill="none" stroke="#000" stroke-width="0.88" stroke-dasharray="1.6 0.9"/>
<path d="M203.8,210.0C204.3,209.2 205.5,206.5 206.5,206.0C207.5,205.5 207.9,207.4 209.0,207.5C210.1,207.6 211.4,206.7 212.0,206.5" fill="none" stroke="#000" stroke-width="0.88" stroke-dasharray="1.6 0.9"/>
<path d="M229.5,215.4C230.3,214.4 231.9,211.6 233.5,210.3C235.1,209.0 235.4,208.5 237.6,208.8C239.8,209.1 242.2,211.5 244.7,211.8C247.2,212.1 247.7,211.6 250.0,210.5C252.3,209.4 254.0,207.0 256.0,206.5C258.0,206.0 258.6,206.5 260.0,208.0C261.4,209.5 261.8,211.8 263.0,214.0C264.2,216.2 264.6,217.2 266.0,219.0C267.4,220.8 270.8,221.2 270.0,223.0C269.2,224.8 265.6,226.3 262.0,228.0C258.4,229.7 255.5,231.3 252.0,231.5C248.5,231.7 248.0,229.2 244.7,229.1C241.4,229.0 238.0,230.8 235.6,231.2C233.2,231.6 233.1,231.2 232.5,231.2" fill="none" stroke="#000" stroke-width="1.06" stroke-dasharray="2.2 1"/>
<path d="M230.5,218.4C231.5,218.0 233.4,216.7 235.6,216.4C237.8,216.1 239.9,216.4 241.7,216.9C243.5,217.4 243.0,218.7 244.7,218.9C246.4,219.1 248.1,218.0 250.0,218.0C251.9,218.0 253.2,218.2 254.0,219.0C254.8,219.8 254.8,221.1 254.0,222.0C253.2,222.9 252.0,223.4 250.0,223.5C248.0,223.6 246.0,222.2 244.0,222.5C242.0,222.8 241.8,224.3 240.0,225.0C238.2,225.7 236.6,226.4 235.0,226.0C233.4,225.6 232.9,224.5 232.0,223.0C231.1,221.5 230.8,219.3 230.5,218.4" fill="none" stroke="#000" stroke-width="1.0" stroke-dasharray="2 1"/>
<path d="M229.0,213.0C229.2,214.4 229.7,217.4 230.0,220.0C230.3,222.6 230.0,223.9 230.5,226.1C231.0,228.3 232.3,228.8 232.5,231.2C232.7,233.6 231.9,235.7 231.5,238.3C231.1,240.9 230.6,242.2 230.5,244.3C230.4,246.4 230.5,247.4 231.0,249.0C231.5,250.6 232.6,251.8 233.0,252.5" fill="none" stroke="#000" stroke-width="1.0" stroke-dasharray="2.2 1"/>
<path d="M226.0,250.5C227.2,251.2 229.9,253.7 232.0,254.0C234.1,254.3 235.3,253.4 236.5,252.0C237.7,250.6 237.8,249.4 238.0,247.0C238.2,244.6 237.6,241.4 237.5,240.0" fill="none" stroke="#000" stroke-width="0.88" stroke-dasharray="2 1"/>
<path d="M238.6,240.3C238.4,241.5 238.2,244.4 237.6,246.4C237.0,248.4 236.0,249.7 235.6,250.5" fill="none" stroke="#555" stroke-width="0.7" stroke-dasharray="2 1"/>
<ellipse cx="209.2" cy="229.4" rx="1.5" ry="3.4499999999999997" fill="none" stroke="#1a0d00" stroke-width="0.8" transform="rotate(-38 209.2 229.4)"/>
<ellipse cx="209.2" cy="229.4" rx="2.6" ry="5.9799999999999995" fill="none" stroke="#1a0d00" stroke-width="0.8" transform="rotate(-38 209.2 229.4)"/>
<ellipse cx="209.2" cy="229.4" rx="3.7" ry="8.51" fill="none" stroke="#1a0d00" stroke-width="0.8" transform="rotate(-38 209.2 229.4)"/>
<ellipse cx="209.2" cy="229.4" rx="4.9" ry="10" fill="none" stroke="#000" stroke-width="0.88" transform="rotate(-38 209.2 229.4)"/>
<path d="M206.0,223.0C206.6,223.6 207.8,224.6 209.0,226.0C210.2,227.4 211.1,228.4 212.0,230.0C212.9,231.6 213.2,233.2 213.5,234.0" fill="none" stroke="#000" stroke-width="1.6"/>
<ellipse cx="214.8" cy="205.2" rx="2.5" ry="1.7" fill="none" stroke="#1a1ad0" stroke-width="1.0" transform="rotate(-35 214.8 205.2)"/>
<ellipse cx="219.3" cy="211.8" rx="1.2" ry="1.2" fill="#ffe000" stroke="#1a1ad0" stroke-width="0.88"/>
<ellipse cx="219.3" cy="211.8" rx="2.6" ry="2.6" fill="none" stroke="#000" stroke-width="0.75"/>
<ellipse cx="223.9" cy="244.3" rx="3" ry="1.6" fill="#ffee00" stroke="#1a1ad0" stroke-width="1.0" transform="rotate(20 223.9 244.3)"/>
<ellipse cx="271" cy="203.6" rx="3" ry="1.8" fill="none" stroke="#000" stroke-width="0.75" stroke-dasharray="1.5 1" transform="rotate(-10 271 203.6)"/>
<path d="M216.7,233.8l1.6,-1.6" stroke="#000" stroke-width="0.8"/>
<path d="M218.3,235.1l1.6,-1.6" stroke="#000" stroke-width="0.8"/>
<path d="M219.9,236.3l1.6,-1.6" stroke="#000" stroke-width="0.8"/>
<path d="M221.6,237.6l1.6,-1.6" stroke="#000" stroke-width="0.8"/>
<path d="M223.2,238.8l1.6,-1.6" stroke="#000" stroke-width="0.8"/>
<path d="M218.7,236.7l-1.4,-1.4" stroke="#000" stroke-width="0.7"/>
<path d="M221.2,238.7l-1.4,-1.4" stroke="#000" stroke-width="0.7"/>
<path d="M223.7,240.7l-1.4,-1.4" stroke="#000" stroke-width="0.7"/>
<path d="M225.1,239.6l0.8,-2.2" stroke="#000" stroke-width="0.8"/>
<path d="M226.5,241.0l0.8,-2.2" stroke="#000" stroke-width="0.8"/>
<path d="M227.8,242.3l0.8,-2.2" stroke="#000" stroke-width="0.8"/>
<path d="M229.2,243.7l0.8,-2.2" stroke="#000" stroke-width="0.8"/>
<path d="M230.6,245.1l0.8,-2.2" stroke="#000" stroke-width="0.8"/>
</g>
<g clip-path="url(#kf)">
<path d="M349.0,212.0C349.2,210.0 349.3,208.6 350.0,207.0C350.7,205.4 351.3,204.8 352.3,203.8C353.3,202.8 353.8,202.8 355.0,202.2C356.2,201.6 356.1,201.5 358.2,201.0C360.3,200.5 361.9,200.0 365.3,199.6C368.7,199.2 371.3,199.1 375.4,199.1C379.5,199.1 381.7,199.4 385.6,199.6C389.5,199.8 389.8,200.2 394.7,200.1C399.6,200.0 403.3,199.4 410.0,199.0C416.7,198.6 423.4,197.9 428.0,198.0C432.6,198.1 431.6,198.7 433.0,199.5C434.4,200.3 434.4,200.5 435.0,202.0C435.6,203.5 436.2,205.3 436.0,207.0C435.8,208.7 434.8,209.3 434.0,210.5C433.2,211.7 431.8,211.9 432.0,213.0C432.2,214.1 433.0,215.0 435.0,216.0C437.0,217.0 440.0,217.0 442.0,218.0C444.0,219.0 444.2,219.8 445.0,221.0C445.8,222.2 446.0,222.8 446.0,224.0C446.0,225.2 446.6,225.2 445.0,227.0C443.4,228.8 442.2,231.4 438.0,233.0C433.8,234.6 429.6,235.0 424.0,235.0C418.4,235.0 414.8,233.0 410.0,233.0C405.2,233.0 402.8,234.2 400.0,235.0C397.2,235.8 397.4,236.1 396.0,237.0C394.6,237.9 394.0,238.1 393.1,239.5C392.2,240.9 392.1,242.1 391.5,244.2C390.9,246.3 390.6,248.1 389.9,249.8C389.2,251.5 388.9,252.0 388.2,252.8C387.5,253.6 387.9,253.7 386.6,254.0C385.3,254.3 383.9,254.8 381.8,254.3C379.7,253.8 378.2,252.7 376.1,251.5C374.0,250.3 373.3,249.3 371.2,248.2C369.1,247.1 367.8,247.1 365.5,245.8C363.2,244.5 361.8,243.8 359.9,241.7C358.0,239.6 357.5,238.0 355.8,235.5C354.1,233.0 352.8,231.5 351.5,229.0C350.2,226.5 350.0,225.4 349.5,223.0C349.0,220.6 349.1,219.2 349.0,217.0C348.9,214.8 348.8,214.0 349.0,212.0Z" fill="#0fe00f" />
<path d="M351.5,212.0C351.7,210.1 351.8,209.0 352.4,207.6C353.0,206.2 353.5,205.8 354.4,205.0C355.3,204.2 355.9,204.1 357.0,203.6C358.1,203.1 358.2,203.0 360.0,202.6C361.8,202.2 362.9,201.8 366.0,201.5C369.1,201.2 371.5,201.0 375.4,201.0C379.3,201.0 381.9,201.2 385.6,201.4C389.3,201.6 391.1,201.7 394.0,202.0C396.9,202.3 396.8,203.0 400.0,203.0C403.2,203.0 404.8,202.4 410.0,202.0C415.2,201.6 422.0,200.9 426.0,201.0C430.0,201.1 428.8,201.7 430.0,202.5C431.2,203.3 431.7,203.9 432.0,205.0C432.3,206.1 431.9,207.0 431.5,208.0C431.1,209.0 430.7,208.8 430.0,210.0C429.3,211.2 427.8,212.6 428.0,214.0C428.2,215.4 429.4,216.0 431.0,217.0C432.6,218.0 434.4,218.0 436.0,219.0C437.6,220.0 438.2,220.8 439.0,222.0C439.8,223.2 441.0,223.4 440.0,225.0C439.0,226.6 438.0,228.6 434.0,230.0C430.0,231.4 425.2,231.8 420.0,232.0C414.8,232.2 412.2,230.8 408.0,231.0C403.8,231.2 401.6,232.2 399.0,233.0C396.4,233.8 396.5,234.1 395.0,235.2C393.5,236.3 392.4,236.8 391.4,238.5C390.4,240.2 390.4,241.6 389.8,243.6C389.2,245.6 389.0,247.1 388.4,248.6C387.8,250.1 387.5,250.5 387.0,251.2C386.5,251.9 386.8,252.0 385.8,252.3C384.8,252.6 383.8,253.0 382.0,252.5C380.2,252.0 379.0,251.2 377.0,250.0C375.0,248.8 374.1,247.9 372.0,246.7C369.9,245.5 368.6,245.5 366.4,244.2C364.2,242.9 363.0,242.2 361.2,240.3C359.4,238.4 358.9,237.0 357.4,234.6C355.9,232.2 354.7,230.8 353.6,228.5C352.5,226.2 352.2,225.3 351.8,223.0C351.4,220.7 351.5,219.2 351.4,217.0C351.3,214.8 351.3,213.9 351.5,212.0Z" fill="#10b414" />
<path d="M354.0,212.0C354.1,210.3 354.2,209.6 354.7,208.4C355.2,207.2 355.5,206.9 356.4,206.2C357.3,205.5 357.9,205.2 359.0,204.8C360.1,204.4 360.2,204.3 362.0,204.0C363.8,203.7 365.4,203.4 368.0,203.2C370.6,203.0 371.8,203.0 375.0,203.0C378.2,203.0 381.0,203.1 384.0,203.2C387.0,203.3 386.8,203.1 390.0,203.5C393.2,203.9 396.0,204.7 400.0,205.0C404.0,205.3 406.0,205.0 410.0,205.0C414.0,205.0 417.4,204.6 420.0,205.0C422.6,205.4 422.2,206.2 423.0,207.0C423.8,207.8 424.1,208.0 424.0,209.0C423.9,210.0 423.1,210.8 422.5,212.0C421.9,213.2 420.9,213.8 421.0,215.0C421.1,216.2 421.6,216.8 423.0,218.0C424.4,219.2 426.2,220.1 428.0,221.0C429.8,221.9 431.4,221.7 432.0,222.5C432.6,223.3 431.4,224.3 431.0,225.0C430.6,225.7 432.2,225.4 430.0,226.0C427.8,226.6 424.4,227.4 420.0,228.0C415.6,228.6 412.4,228.4 408.0,229.0C403.6,229.6 401.0,230.1 398.0,231.0C395.0,231.9 394.7,232.3 393.0,233.6C391.3,234.9 390.6,235.5 389.6,237.3C388.6,239.1 388.6,240.5 388.0,242.6C387.4,244.7 387.3,246.1 386.8,247.6C386.3,249.1 386.1,249.5 385.6,250.2C385.1,250.9 385.1,250.9 384.4,251.0C383.7,251.1 383.4,251.4 382.0,250.9C380.6,250.4 379.5,249.7 377.6,248.6C375.7,247.5 374.7,246.5 372.6,245.3C370.5,244.1 369.3,244.0 367.2,242.7C365.1,241.4 364.0,240.8 362.3,239.0C360.6,237.2 360.1,235.8 358.8,233.6C357.5,231.4 356.5,230.1 355.6,228.0C354.7,225.9 354.5,225.2 354.2,223.0C353.9,220.8 354.0,219.2 354.0,217.0C354.0,214.8 353.9,213.7 354.0,212.0Z" fill="#078a0a" />
<path d="M356.0,214.0C356.3,212.1 356.3,210.8 357.0,209.3C357.7,207.8 358.3,207.4 359.5,206.6C360.7,205.8 360.9,205.9 363.0,205.5C365.1,205.1 367.4,204.8 370.0,204.4C372.6,204.0 374.0,203.6 376.0,203.6C378.0,203.6 378.1,203.8 380.0,204.3C381.9,204.8 382.7,205.5 385.6,206.2C388.5,206.9 391.8,207.1 394.7,207.7C397.6,208.3 396.9,208.5 400.0,209.0C403.1,209.5 407.4,209.2 410.0,210.0C412.6,210.8 412.0,211.8 413.0,213.0C414.0,214.2 414.0,214.6 415.0,216.0C416.0,217.4 416.4,218.8 418.0,220.0C419.6,221.2 422.6,221.2 423.0,222.0C423.4,222.8 421.8,223.2 420.0,224.0C418.2,224.8 418.0,224.8 414.0,226.0C410.0,227.2 403.8,228.8 400.0,230.0C396.2,231.2 397.2,231.4 395.0,232.0C392.8,232.6 390.8,232.5 389.0,233.0C387.2,233.5 386.6,233.1 385.8,234.5C385.0,235.9 385.6,237.7 385.2,240.0C384.8,242.3 384.5,244.0 384.0,246.0C383.5,248.0 383.3,249.0 382.8,250.0C382.3,251.0 382.2,250.7 381.6,250.8C381.0,250.9 381.1,250.9 380.0,250.4C378.9,249.9 378.0,249.6 376.1,248.2C374.2,246.8 372.7,245.1 370.4,243.5C368.1,241.9 366.6,241.5 364.7,240.2C362.8,238.9 362.1,238.8 360.7,237.0C359.3,235.2 358.5,233.4 357.5,231.0C356.5,228.6 356.1,227.4 355.7,225.0C355.3,222.6 355.4,221.2 355.5,219.0C355.6,216.8 355.7,215.9 356.0,214.0Z" fill="#fff000" />
<path d="M357.5,216.0C357.9,213.7 358.4,214.1 359.5,213.0C360.6,211.9 361.3,211.1 363.0,210.7C364.7,210.3 365.7,210.5 368.0,211.0C370.3,211.5 370.8,212.6 374.4,213.0C378.0,213.4 381.7,213.0 386.0,213.0C390.3,213.0 392.8,213.0 396.0,213.2C399.2,213.4 400.0,213.5 402.0,214.0C404.0,214.5 404.9,214.8 406.0,215.5C407.1,216.2 407.3,216.7 407.7,217.6C408.1,218.5 408.2,219.1 408.0,220.0C407.8,220.9 407.8,221.3 406.6,222.0C405.4,222.7 403.8,223.0 402.0,223.5C400.2,224.0 400.6,223.5 397.4,224.4C394.2,225.3 390.1,226.5 386.0,227.9C381.9,229.3 379.5,229.7 376.7,231.3C373.9,232.9 373.8,234.4 372.0,236.0C370.2,237.6 369.2,238.9 367.6,239.4C366.0,239.9 365.3,239.4 364.0,238.5C362.7,237.6 362.1,236.9 361.0,235.0C359.9,233.1 359.1,231.1 358.4,229.0C357.7,226.9 357.7,227.0 357.5,224.4C357.3,221.8 357.1,218.3 357.5,216.0Z" fill="#e8c000" />
<path d="M372.4,232.0C372.6,230.8 373.5,230.1 375.0,229.5C376.5,228.9 377.9,229.0 380.0,229.0C382.1,229.0 384.2,228.7 385.5,229.5C386.8,230.3 386.4,231.5 386.3,233.0C386.2,234.5 386.5,236.2 385.0,237.0C383.5,237.8 381.2,237.5 379.0,237.2C376.8,236.9 375.3,236.5 374.0,235.5C372.7,234.5 372.2,233.2 372.4,232.0Z" fill="#fff000" />
<path d="M363.3,212.5C364.3,211.7 365.5,211.7 367.0,211.8C368.5,211.9 370.1,212.0 371.0,213.0C371.9,214.0 371.8,215.4 371.4,217.0C371.0,218.6 369.8,219.4 369.0,221.0C368.2,222.6 368.4,224.2 367.5,225.0C366.6,225.8 365.5,225.8 364.5,225.0C363.5,224.2 363.0,222.8 362.5,221.0C362.0,219.2 361.8,217.7 362.0,216.0C362.2,214.3 362.3,213.3 363.3,212.5Z" fill="#ff9a00" />
<ellipse cx="387" cy="220.5" rx="4.2" ry="3.4" fill="#ff9a00"/>
<ellipse cx="365" cy="221.5" rx="2.4" ry="1.4" fill="#ff9a00"/>
<ellipse cx="385" cy="221.5" rx="5.5" ry="2" fill="#ff9a00"/>
<ellipse cx="363.8" cy="229.8" rx="1.6" ry="6.4" fill="#ff9a00" transform="rotate(-27 363.8 229.8)"/>
<path d="M358.2,202.2C359.6,201.5 361.9,199.7 365.3,198.6C368.7,197.5 371.3,197.1 375.4,196.6C379.5,196.1 382.3,196.2 385.6,196.3C388.9,196.4 390.0,196.6 391.7,197.3C393.4,198.0 394.0,198.9 394.2,199.6C394.4,200.3 394.8,200.3 392.7,200.6C390.6,200.9 386.3,200.7 383.5,201.2C380.7,201.7 379.5,202.8 378.5,203.2" fill="none" stroke="#000" stroke-width="1.06" stroke-dasharray="2.4 1"/>
<path d="M359.2,205.2C360.4,204.3 362.5,201.6 365.3,200.6C368.1,199.6 370.8,199.6 373.4,200.1C376.0,200.6 378.1,201.4 378.5,203.2C378.9,205.0 377.4,207.6 375.4,209.3C373.4,211.0 370.9,211.8 368.3,211.8C365.7,211.8 364.0,210.6 362.2,209.3C360.4,208.0 359.8,206.0 359.2,205.2" fill="none" stroke="#000" stroke-width="1.0" stroke-dasharray="2 1"/>
<path d="M373.7,206.3l1.4,-2.6" stroke="#000" stroke-width="0.8"/>
<path d="M374.7,207.6l1.4,-2.6" stroke="#000" stroke-width="0.8"/>
<path d="M375.8,209.0l1.4,-2.6" stroke="#000" stroke-width="0.8"/>
<path d="M376.8,210.3l1.4,-2.6" stroke="#000" stroke-width="0.8"/>
<path d="M370.4,209.1l1.2,-2.2" stroke="#000" stroke-width="0.7"/>
<path d="M372.4,210.6l1.2,-2.2" stroke="#000" stroke-width="0.7"/>
<path d="M374.4,212.1l1.2,-2.2" stroke="#000" stroke-width="0.7"/>
<path d="M389.0,252.0C389.5,251.0 390.8,249.8 391.5,247.0C392.2,244.2 391.6,240.5 392.5,238.0C393.4,235.5 393.7,235.7 396.0,234.5C398.3,233.3 400.4,233.3 404.0,232.0C407.6,230.7 410.2,229.7 414.0,228.0C417.8,226.3 422.0,225.1 423.0,223.5C424.0,221.9 420.4,221.7 419.0,220.0C417.6,218.3 417.2,217.2 416.0,215.0C414.8,212.8 414.4,210.6 413.0,209.0C411.6,207.4 411.2,207.4 409.0,207.0C406.8,206.6 404.6,206.8 402.0,207.0C399.4,207.2 397.5,207.1 396.0,208.0C394.5,208.9 396.0,211.1 394.7,211.3C393.4,211.5 391.4,209.2 389.6,208.8C387.8,208.4 386.4,209.2 385.6,209.3" fill="none" stroke="#000" stroke-width="1.06" stroke-dasharray="2.2 1"/>
<path d="M385.6,209.3C385.8,210.3 387.0,212.7 386.6,214.3C386.2,215.9 384.3,216.3 383.5,217.4C382.7,218.5 382.6,219.3 382.5,220.0C382.4,220.7 382.8,219.8 383.0,221.0C383.2,222.2 382.2,224.9 383.5,226.1C384.8,227.3 387.0,226.8 389.6,227.1C392.2,227.4 394.2,227.7 396.7,227.6C399.2,227.5 399.9,227.1 402.0,226.5C404.1,225.9 405.4,225.4 407.0,224.5C408.6,223.6 409.4,222.5 410.0,222.0" fill="none" stroke="#000" stroke-width="1.0" stroke-dasharray="2 1"/>
<path d="M386.0,232.0C386.2,233.6 386.7,237.0 387.0,240.0C387.3,243.0 387.7,244.6 387.5,247.0C387.3,249.4 387.1,251.0 386.0,252.0C384.9,253.0 382.8,252.0 382.0,252.0" fill="none" stroke="#000" stroke-width="0.88" stroke-dasharray="2 1"/>
<path d="M380.0,251.5C381.0,252.1 383.1,254.3 385.0,254.5C386.9,254.7 388.3,254.0 389.5,252.5C390.7,251.0 390.8,249.5 391.0,247.0C391.2,244.5 390.6,241.4 390.5,240.0" fill="none" stroke="#000" stroke-width="0.88" stroke-dasharray="2 1"/>
<ellipse cx="362.7" cy="230.6" rx="2.3" ry="7.075" fill="none" stroke="#000" stroke-width="0.94" transform="rotate(-30 362.7 230.6)"/>
<ellipse cx="362.7" cy="230.6" rx="3.4" ry="8.45" fill="none" stroke="#000" stroke-width="0.94" transform="rotate(-30 362.7 230.6)"/>
<ellipse cx="362.7" cy="230.6" rx="4.5" ry="9.825" fill="none" stroke="#000" stroke-width="0.94" transform="rotate(-30 362.7 230.6)"/>
<ellipse cx="367.8" cy="205.7" rx="4" ry="2.5" fill="#ffee00" stroke="#1a1ad0" stroke-width="1.06" transform="rotate(-25 367.8 205.7)"/>
<ellipse cx="377.1" cy="245.6" rx="6.8" ry="2.3" fill="#ffee00" stroke="#1a1ad0" stroke-width="1.06" transform="rotate(33 377.1 245.6)"/>
<path d="M376.7,239.8l0.6,-2.6" stroke="#000" stroke-width="0.8"/>
<path d="M378.9,240.2l0.6,-2.6" stroke="#000" stroke-width="0.8"/>
<path d="M381.0,240.6l0.6,-2.6" stroke="#000" stroke-width="0.8"/>
<path d="M383.2,241.1l0.6,-2.6" stroke="#000" stroke-width="0.8"/>
<path d="M385.4,241.5l0.6,-2.6" stroke="#000" stroke-width="0.8"/>
<path d="M387.5,241.9l0.6,-2.6" stroke="#000" stroke-width="0.8"/>
<path d="M389.7,242.3l0.6,-2.6" stroke="#000" stroke-width="0.8"/>
<path d="M380.7,244.3l0.6,-2.6" stroke="#000" stroke-width="0.8"/>
<path d="M383.1,245.1l0.6,-2.6" stroke="#000" stroke-width="0.8"/>
<path d="M385.4,245.8l0.6,-2.6" stroke="#000" stroke-width="0.8"/>
<path d="M387.8,246.6l0.6,-2.6" stroke="#000" stroke-width="0.8"/>
<path d="M390.2,247.3l0.6,-2.6" stroke="#000" stroke-width="0.8"/>
<ellipse cx="380" cy="233.5" rx="0.9" ry="0.7" fill="#000"/>
<ellipse cx="422" cy="204.5" rx="1.0" ry="0.5" fill="#000"/>
</g>
<path d="M25.4,21.4H165V148.7H25.4Z" fill="none" stroke="#8c8c8c" stroke-width="1.25"/>
<path d="M167.2,21.4H299.4V148.7H167.2" fill="none" stroke="#8c8c8c" stroke-width="1.25"/>
<path d="M320,21.5H452.5V149H320" fill="none" stroke="#8c8c8c" stroke-width="1.25"/>
<path d="M25.4,176.8H165V270.1H25.4Z" fill="none" stroke="#8c8c8c" stroke-width="1.25"/>
<path d="M178.8,177.4H318.2V270.9H178.8Z" fill="none" stroke="#8c8c8c" stroke-width="1.25"/>
<path d="M331.8,178.5H471.6V272.1H331.8Z" fill="none" stroke="#8c8c8c" stroke-width="1.25"/>
<g font-family="'DejaVu Sans', 'Liberation Sans', sans-serif" fill="#1a1a1a" stroke="#1a1a1a" stroke-width="0.22">
<path d="M23.8,134.3L25.4,134.3" stroke="#333" stroke-width="0.8"/>
<text x="21.9" y="136.9" font-size="6.5" text-anchor="end">2</text>
<path d="M23.8,118.70000000000002L25.4,118.70000000000002" stroke="#333" stroke-width="0.8"/>
<text x="21.9" y="121.3" font-size="6.5" text-anchor="end">4</text>
<path d="M23.8,103.10000000000001L25.4,103.10000000000001" stroke="#333" stroke-width="0.8"/>
<text x="21.9" y="105.7" font-size="6.5" text-anchor="end">6</text>
<path d="M23.8,87.50000000000001L25.4,87.50000000000001" stroke="#333" stroke-width="0.8"/>
<text x="21.9" y="90.1" font-size="6.5" text-anchor="end">8</text>
<path d="M23.8,71.9L25.4,71.9" stroke="#333" stroke-width="0.8"/>
<text x="21.9" y="74.5" font-size="6.5" text-anchor="end">10</text>
<path d="M23.8,56.30000000000001L25.4,56.30000000000001" stroke="#333" stroke-width="0.8"/>
<text x="21.9" y="58.9" font-size="6.5" text-anchor="end">12</text>
<path d="M23.8,40.70000000000002L25.4,40.70000000000002" stroke="#333" stroke-width="0.8"/>
<text x="21.9" y="43.3" font-size="6.5" text-anchor="end">14</text>
<path d="M23.8,25.10000000000001L25.4,25.10000000000001" stroke="#333" stroke-width="0.8"/>
<text x="21.9" y="27.7" font-size="6.5" text-anchor="end">16</text>
<text transform="translate(11.0,85) rotate(-90)" font-size="7.5" text-anchor="middle">Height (km)</text>
<path d="M53.1,148.7L53.1,150.4" stroke="#333" stroke-width="0.8"/>
<text x="53.1" y="157.6" font-size="6.4" text-anchor="middle">80</text>
<path d="M81.1,148.7L81.1,150.4" stroke="#333" stroke-width="0.8"/>
<text x="81.1" y="157.6" font-size="6.4" text-anchor="middle">100</text>
<path d="M109.1,148.7L109.1,150.4" stroke="#333" stroke-width="0.8"/>
<text x="109.1" y="157.6" font-size="6.4" text-anchor="middle">120</text>
<path d="M137.1,148.7L137.1,150.4" stroke="#333" stroke-width="0.8"/>
<text x="137.1" y="157.6" font-size="6.4" text-anchor="middle">140</text>
<path d="M187.6,148.7L187.6,150.4" stroke="#333" stroke-width="0.8"/>
<text x="187.6" y="157.6" font-size="6.4" text-anchor="middle">80</text>
<path d="M215.6,148.7L215.6,150.4" stroke="#333" stroke-width="0.8"/>
<text x="215.6" y="157.6" font-size="6.4" text-anchor="middle">100</text>
<path d="M243.6,148.7L243.6,150.4" stroke="#333" stroke-width="0.8"/>
<text x="243.6" y="157.6" font-size="6.4" text-anchor="middle">120</text>
<path d="M271.6,148.7L271.6,150.4" stroke="#333" stroke-width="0.8"/>
<text x="271.6" y="157.6" font-size="6.4" text-anchor="middle">140</text>
<path d="M341.1,148.7L341.1,150.4" stroke="#333" stroke-width="0.8"/>
<text x="341.1" y="157.6" font-size="6.4" text-anchor="middle">80</text>
<path d="M369.1,148.7L369.1,150.4" stroke="#333" stroke-width="0.8"/>
<text x="369.1" y="157.6" font-size="6.4" text-anchor="middle">100</text>
<path d="M397.1,148.7L397.1,150.4" stroke="#333" stroke-width="0.8"/>
<text x="397.1" y="157.6" font-size="6.4" text-anchor="middle">120</text>
<path d="M425.1,148.7L425.1,150.4" stroke="#333" stroke-width="0.8"/>
<text x="425.1" y="157.6" font-size="6.4" text-anchor="middle">140</text>
<path d="M48.3,270.1L48.3,271.8" stroke="#333" stroke-width="0.8"/>
<text x="48.3" y="279.1" font-size="6.5" text-anchor="middle">70</text>
<path d="M71.85,270.1L71.85,271.8" stroke="#333" stroke-width="0.8"/>
<text x="71.8" y="279.1" font-size="6.5" text-anchor="middle">80</text>
<path d="M95.4,270.1L95.4,271.8" stroke="#333" stroke-width="0.8"/>
<text x="95.4" y="279.1" font-size="6.5" text-anchor="middle">90</text>
<path d="M118.95,270.1L118.95,271.8" stroke="#333" stroke-width="0.8"/>
<text x="119.0" y="279.1" font-size="6.5" text-anchor="middle">100</text>
<path d="M142.5,270.1L142.5,271.8" stroke="#333" stroke-width="0.8"/>
<text x="142.5" y="279.1" font-size="6.5" text-anchor="middle">110</text>
<path d="M23.799999999999997,199.6L25.4,199.6" stroke="#333" stroke-width="0.8"/>
<text x="22.0" y="202.0" font-size="6.4" text-anchor="end">90</text>
<path d="M23.799999999999997,223.6L25.4,223.6" stroke="#333" stroke-width="0.8"/>
<text x="22.0" y="226.0" font-size="6.4" text-anchor="end">80</text>
<path d="M23.799999999999997,247.6L25.4,247.6" stroke="#333" stroke-width="0.8"/>
<text x="22.0" y="250.0" font-size="6.4" text-anchor="end">70</text>
<text x="95.4" y="287.7" font-size="7.4" text-anchor="middle">X (km)</text>
<path d="M201.4,270.9L201.4,272.59999999999997" stroke="#333" stroke-width="0.8"/>
<text x="201.4" y="279.9" font-size="6.5" text-anchor="middle">70</text>
<path d="M224.95000000000002,270.9L224.95000000000002,272.59999999999997" stroke="#333" stroke-width="0.8"/>
<text x="225.0" y="279.9" font-size="6.5" text-anchor="middle">80</text>
<path d="M248.5,270.9L248.5,272.59999999999997" stroke="#333" stroke-width="0.8"/>
<text x="248.5" y="279.9" font-size="6.5" text-anchor="middle">90</text>
<path d="M272.05,270.9L272.05,272.59999999999997" stroke="#333" stroke-width="0.8"/>
<text x="272.1" y="279.9" font-size="6.5" text-anchor="middle">100</text>
<path d="M295.6,270.9L295.6,272.59999999999997" stroke="#333" stroke-width="0.8"/>
<text x="295.6" y="279.9" font-size="6.5" text-anchor="middle">110</text>
<path d="M177.20000000000002,200.4L178.8,200.4" stroke="#333" stroke-width="0.8"/>
<text x="175.4" y="202.8" font-size="6.4" text-anchor="end">90</text>
<path d="M177.20000000000002,224.4L178.8,224.4" stroke="#333" stroke-width="0.8"/>
<text x="175.4" y="226.8" font-size="6.4" text-anchor="end">80</text>
<path d="M177.20000000000002,248.4L178.8,248.4" stroke="#333" stroke-width="0.8"/>
<text x="175.4" y="250.8" font-size="6.4" text-anchor="end">70</text>
<text x="248.5" y="288.4" font-size="7.4" text-anchor="middle">X (km)</text>
<path d="M354.5,272.1L354.5,273.8" stroke="#333" stroke-width="0.8"/>
<text x="354.5" y="281.1" font-size="6.5" text-anchor="middle">70</text>
<path d="M378.05,272.1L378.05,273.8" stroke="#333" stroke-width="0.8"/>
<text x="378.1" y="281.1" font-size="6.5" text-anchor="middle">80</text>
<path d="M401.6,272.1L401.6,273.8" stroke="#333" stroke-width="0.8"/>
<text x="401.6" y="281.1" font-size="6.5" text-anchor="middle">90</text>
<path d="M425.15,272.1L425.15,273.8" stroke="#333" stroke-width="0.8"/>
<text x="425.1" y="281.1" font-size="6.5" text-anchor="middle">100</text>
<path d="M448.7,272.1L448.7,273.8" stroke="#333" stroke-width="0.8"/>
<text x="448.7" y="281.1" font-size="6.5" text-anchor="middle">110</text>
<path d="M330.2,201.2L331.8,201.2" stroke="#333" stroke-width="0.8"/>
<text x="328.4" y="203.6" font-size="6.4" text-anchor="end">90</text>
<path d="M330.2,225.2L331.8,225.2" stroke="#333" stroke-width="0.8"/>
<text x="328.4" y="227.6" font-size="6.4" text-anchor="end">80</text>
<path d="M330.2,249.2L331.8,249.2" stroke="#333" stroke-width="0.8"/>
<text x="328.4" y="251.6" font-size="6.4" text-anchor="end">70</text>
<text x="401.6" y="289.7" font-size="7.4" text-anchor="middle">X (km)</text>
<text transform="translate(10.1,223.8) rotate(-90)" font-size="7.5" text-anchor="middle">Y (km)</text>
<rect x="455.4" y="53.8" width="3.7" height="12.9" fill="#ff00ff"/>
<rect x="455.4" y="66.6" width="3.7" height="12.9" fill="#ff0000"/>
<rect x="455.4" y="79.4" width="3.7" height="12.9" fill="#ffff00"/>
<rect x="455.4" y="92.2" width="3.7" height="12.9" fill="#00ff00"/>
<rect x="455.4" y="105.0" width="3.7" height="12.9" fill="#02e6e8"/>
<rect x="455.4" y="53.8" width="3.7" height="64" fill="none" stroke="#777" stroke-width="0.4"/>
<path d="M459.1,53.8L460.6,53.8" stroke="#333" stroke-width="0.8"/>
<text x="462" y="55.6" font-size="4.9">60</text>
<path d="M459.1,66.6L460.6,66.6" stroke="#333" stroke-width="0.8"/>
<text x="462" y="68.4" font-size="4.9">50</text>
<path d="M459.1,79.4L460.6,79.4" stroke="#333" stroke-width="0.8"/>
<text x="462" y="81.2" font-size="4.9">40</text>
<path d="M459.1,92.2L460.6,92.2" stroke="#333" stroke-width="0.8"/>
<text x="462" y="94.0" font-size="4.9">30</text>
<path d="M459.1,105.0L460.6,105.0" stroke="#333" stroke-width="0.8"/>
<text x="462" y="106.8" font-size="4.9">20</text>
<path d="M459.1,117.8L460.6,117.8" stroke="#333" stroke-width="0.8"/>
<text x="462" y="119.6" font-size="4.9">10</text>
<text transform="translate(475.5,85.2) rotate(-90)" font-size="6.9" text-anchor="middle">Radar ref (dbZ)</text>
<rect x="474.3" y="193.1" width="3.7" height="8.1" fill="#b40000"/>
<rect x="474.3" y="201.1" width="3.7" height="8.1" fill="#ff2000"/>
<rect x="474.3" y="209.1" width="3.7" height="8.1" fill="#ff9a00"/>
<rect x="474.3" y="217.1" width="3.7" height="8.1" fill="#e8c000"/>
<rect x="474.3" y="225.1" width="3.7" height="8.1" fill="#fff000"/>
<rect x="474.3" y="233.1" width="3.7" height="8.1" fill="#078a0a"/>
<rect x="474.3" y="241.1" width="3.7" height="8.1" fill="#10b414"/>
<rect x="474.3" y="249.1" width="3.7" height="8.1" fill="#14f028"/>
<rect x="474.3" y="193.1" width="3.7" height="64" fill="none" stroke="#777" stroke-width="0.4"/>
<path d="M478,193.1L479.4,193.1" stroke="#333" stroke-width="0.8"/>
<text x="480.8" y="194.8" font-size="4.6">80</text>
<path d="M478,201.1L479.4,201.1" stroke="#333" stroke-width="0.8"/>
<text x="480.8" y="202.8" font-size="4.6">50</text>
<path d="M478,209.1L479.4,209.1" stroke="#333" stroke-width="0.8"/>
<text x="480.8" y="210.8" font-size="4.6">40</text>
<path d="M478,217.1L479.4,217.1" stroke="#333" stroke-width="0.8"/>
<text x="480.8" y="218.8" font-size="4.6">30</text>
<path d="M478,225.1L479.4,225.1" stroke="#333" stroke-width="0.8"/>
<text x="480.8" y="226.8" font-size="4.6">20</text>
<path d="M478,233.1L479.4,233.1" stroke="#333" stroke-width="0.8"/>
<text x="480.8" y="234.8" font-size="4.6">10</text>
<path d="M478,241.1L479.4,241.1" stroke="#333" stroke-width="0.8"/>
<text x="480.8" y="242.8" font-size="4.6">5</text>
<path d="M478,249.1L479.4,249.1" stroke="#333" stroke-width="0.8"/>
<text x="480.8" y="250.8" font-size="4.6">2</text>
<path d="M478,257.1L479.4,257.1" stroke="#333" stroke-width="0.8"/>
<text x="480.8" y="258.8" font-size="4.6">1</text>
<text transform="translate(494.2,224.6) rotate(-90)" font-size="6.7" text-anchor="middle">Acc. precip. (mm)</text>
</g>
<g font-family="'Liberation Serif', serif" fill="#111" stroke="#111" stroke-width="0.15">
<text transform="translate(4.4,17.3) scale(0.89,1)" font-size="18.4">(<tspan font-size="19.4" dy="1.9">a</tspan><tspan dy="-1.9">)</tspan></text>
<text transform="translate(167.4,17.6) scale(0.89,1)" font-size="18.4">(<tspan font-size="19.4" dy="1.9">b</tspan><tspan dy="-1.9">)</tspan></text>
<text transform="translate(319.9,17.6) scale(0.89,1)" font-size="18.4">(<tspan font-size="19.4" dy="1.9">c</tspan><tspan dy="-1.9">)</tspan></text>
<text transform="translate(4.4,172.0) scale(0.89,1)" font-size="18.4">(<tspan font-size="19.4" dy="1.9">d</tspan><tspan dy="-1.9">)</tspan></text>
<text transform="translate(166.4,172.8) scale(0.89,1)" font-size="18.4">(<tspan font-size="19.4" dy="1.9">e</tspan><tspan dy="-1.9">)</tspan></text>
<text transform="translate(320.0,173.3) scale(0.89,1)" font-size="18.4">(<tspan font-size="19.4" dy="1.9">f</tspan><tspan dy="-1.9">)</tspan></text>
</g>
</svg>
</body></html>
